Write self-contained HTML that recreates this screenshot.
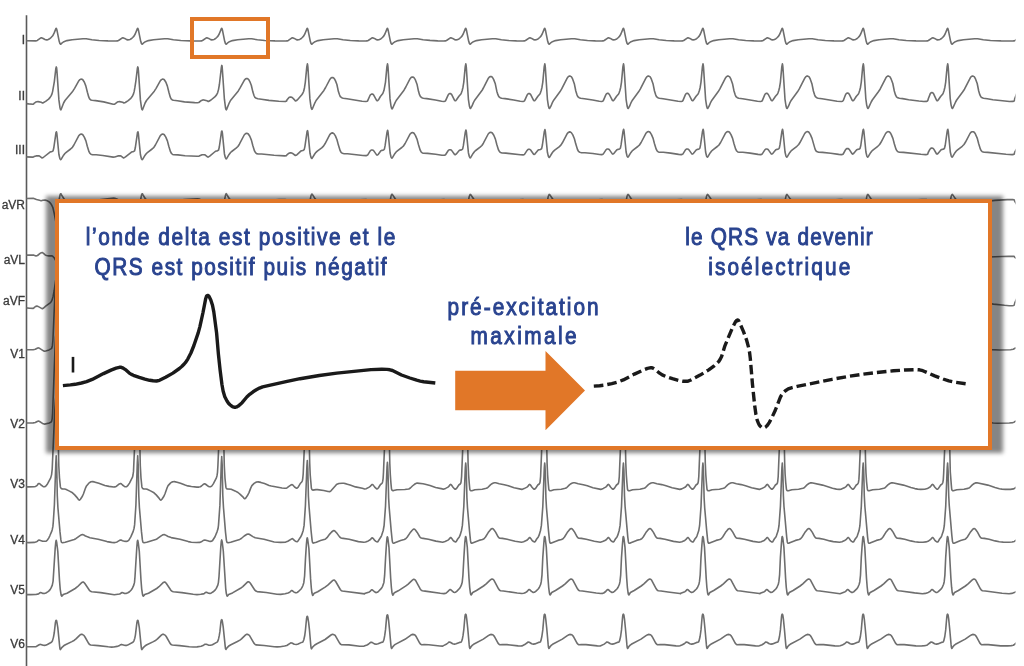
<!DOCTYPE html>
<html><head><meta charset="utf-8">
<style>
html,body{margin:0;padding:0;background:#fff;}
body{width:1024px;height:666px;overflow:hidden;position:relative;}
#ecg{position:absolute;left:0;top:0;will-change:transform;}
#shadow{position:absolute;left:45.5px;top:196px;width:957px;height:256.8px;background:rgba(0,0,0,0.48);filter:blur(2px);}
#box{position:absolute;left:55px;top:199px;width:937px;height:251px;box-sizing:border-box;border:4px solid #E17728;background:#fff;}
#small{position:absolute;left:190px;top:17px;width:80px;height:42px;box-sizing:border-box;border:4px solid #E17728;}
#inset{position:absolute;left:0;top:0;will-change:transform;}
</style></head>
<body>
<svg id="ecg" width="1024" height="666" viewBox="0 0 1024 666">
<defs><clipPath id="cl"><rect x="26.5" y="0" width="989" height="666"/></clipPath></defs>
<line x1="26.5" y1="15.3" x2="26.5" y2="666" stroke="#5a5a5a" stroke-width="1.6"/>
<g clip-path="url(#cl)" fill="none" stroke="#6e6e6e" stroke-width="1.6" stroke-linejoin="round" stroke-linecap="round">
<path d="M16.5 40.6L35.7 40.9 37.3 40.4 40.5 38.1 41.5 37.8 42.7 38.2 45.0 39.5 45.7 39.7 46.7 39.9 48.1 39.6 49.2 39.1 50.4 38.2 52.7 35.8 54.2 32.9 55.9 28.6 56.2 28.3 56.6 28.9 57.1 30.8 59.2 41.3 59.9 43.4 60.6 44.2 61.1 44.0 62.2 42.8 63.9 41.7 66.9 40.6 72.1 39.7 83.0 38.7 86.2 38.8 91.9 39.8 99.1 40.5 107.9 40.9 116.1 41.0 117.3 40.9 118.5 40.5 122.0 38.1 122.9 37.8 124.7 38.4 126.7 39.6 127.9 39.9 128.9 39.8 130.1 39.4 131.2 38.8 132.7 37.5 134.0 36.1 135.2 34.0 137.4 28.6 137.7 28.3 138.1 28.9 138.6 30.8 140.7 41.3 141.4 43.4 142.1 44.2 142.6 44.0 143.7 42.8 145.4 41.7 148.4 40.6 153.6 39.7 164.4 38.7 167.7 38.8 173.4 39.8 180.8 40.5 190.5 40.9 200.3 41.0 201.4 40.9 202.5 40.5 206.0 38.1 206.9 37.8 208.7 38.4 210.7 39.6 211.9 39.9 212.9 39.8 214.1 39.4 215.2 38.8 216.7 37.5 218.0 36.1 219.2 34.0 221.4 28.6 221.7 28.3 222.1 28.9 222.6 30.8 224.7 41.3 225.4 43.4 226.1 44.2 226.6 44.0 227.7 42.8 229.4 41.7 232.4 40.6 237.6 39.7 248.7 38.7 251.7 38.8 257.4 39.8 264.7 40.5 275.0 40.9 286.0 41.0 287.1 40.9 288.4 40.4 291.6 38.1 292.6 37.8 294.3 38.4 296.3 39.6 297.5 39.9 298.5 39.8 299.7 39.4 300.8 38.8 302.3 37.5 303.6 36.1 304.8 34.0 307.0 28.6 307.3 28.3 307.7 28.9 308.2 30.8 310.3 41.3 311.0 43.4 311.7 44.2 312.2 44.0 313.3 42.8 315.0 41.7 318.0 40.6 323.2 39.7 334.1 38.7 337.3 38.8 343.0 39.8 350.3 40.5 358.7 40.9 365.7 41.0 366.9 40.9 368.2 40.5 371.7 38.1 372.6 37.8 374.4 38.4 376.6 39.7 377.6 39.9 378.9 39.7 380.1 39.3 381.1 38.6 382.4 37.5 383.7 36.1 384.9 34.0 387.1 28.6 387.4 28.3 387.8 28.9 388.3 30.8 390.4 41.3 391.1 43.4 391.8 44.2 392.3 44.0 393.4 42.8 395.1 41.7 398.1 40.6 403.3 39.7 414.1 38.7 417.4 38.8 423.1 39.8 430.0 40.4 437.8 40.9 443.9 41.0 445.3 40.9 446.5 40.5 450.0 38.1 450.9 37.8 452.7 38.4 454.9 39.7 455.9 39.9 457.2 39.7 458.4 39.3 459.4 38.6 460.7 37.5 462.0 36.1 463.2 34.0 465.4 28.6 465.7 28.3 466.1 28.9 466.6 30.8 468.7 41.3 469.4 43.4 470.1 44.2 470.6 44.0 471.7 42.8 473.4 41.7 476.4 40.6 481.6 39.7 492.4 38.7 495.7 38.8 501.4 39.8 508.5 40.5 516.5 40.9 523.0 41.0 524.3 40.9 525.5 40.5 529.0 38.1 530.0 37.8 531.7 38.4 533.9 39.7 534.9 39.9 536.2 39.7 537.4 39.3 538.4 38.6 539.7 37.5 541.0 36.1 542.2 34.0 544.4 28.6 544.7 28.3 545.1 28.9 545.6 30.8 547.7 41.3 548.4 43.4 549.1 44.2 549.6 44.0 550.7 42.8 552.4 41.7 555.4 40.6 560.6 39.7 571.5 38.7 574.7 38.8 580.4 39.8 587.5 40.5 595.4 40.9 601.6 41.0 603.0 40.9 604.2 40.5 607.7 38.1 608.6 37.8 610.4 38.4 612.6 39.7 613.6 39.9 614.9 39.7 616.1 39.3 617.1 38.6 618.4 37.5 619.7 36.1 620.9 34.0 623.1 28.6 623.4 28.3 623.8 28.9 624.3 30.8 626.4 41.3 627.1 43.4 627.8 44.2 628.3 44.0 629.4 42.8 631.1 41.7 634.1 40.6 639.3 39.7 650.1 38.7 653.4 38.8 659.1 39.8 666.2 40.5 674.2 40.9 681.2 41.0 682.4 40.9 683.7 40.5 687.2 38.1 688.1 37.8 689.9 38.4 692.1 39.7 693.1 39.9 694.4 39.7 695.6 39.3 696.6 38.6 697.9 37.5 699.2 36.1 700.4 34.0 702.6 28.6 702.9 28.3 703.3 28.9 703.8 30.8 705.9 41.3 706.6 43.4 707.3 44.2 707.8 44.0 708.9 42.8 710.6 41.7 713.6 40.6 718.8 39.7 729.6 38.7 732.9 38.8 738.6 39.8 745.7 40.5 753.8 40.9 760.6 41.0 761.8 40.9 763.1 40.5 766.6 38.1 767.5 37.8 769.3 38.4 771.5 39.7 772.5 39.9 773.8 39.7 775.0 39.3 776.0 38.6 777.3 37.5 778.6 36.1 779.8 34.0 782.0 28.6 782.3 28.3 782.7 28.9 783.2 30.8 785.3 41.3 786.0 43.4 786.7 44.2 787.2 44.0 788.3 42.8 790.0 41.7 793.0 40.6 798.2 39.7 809.0 38.7 812.3 38.8 818.0 39.8 825.3 40.5 834.0 40.9 841.6 41.0 842.8 40.9 844.0 40.5 847.5 38.1 848.5 37.8 850.2 38.4 852.2 39.6 853.4 39.9 854.4 39.8 855.6 39.4 856.7 38.8 858.2 37.5 859.5 36.1 860.7 34.0 862.9 28.6 863.2 28.3 863.6 28.9 864.1 30.8 866.2 41.3 866.9 43.4 867.6 44.2 868.1 44.0 869.2 42.8 870.9 41.7 873.9 40.6 879.1 39.7 890.0 38.7 893.2 38.8 898.9 39.8 906.2 40.5 916.0 40.9 926.2 41.0 927.3 40.9 928.4 40.5 931.9 38.1 932.9 37.8 934.6 38.4 936.6 39.6 937.8 39.9 938.8 39.8 940.0 39.4 941.1 38.8 942.6 37.5 943.9 36.1 945.1 34.0 947.3 28.6 947.6 28.3 948.0 28.9 948.5 30.8 950.6 41.3 951.3 43.4 952.0 44.2 952.5 44.0 953.6 42.8 955.3 41.7 958.3 40.6 963.5 39.7 974.6 38.7 977.6 38.8 983.3 39.8 990.5 40.5 1001.1 40.9 1012.8 41.0 1013.9 40.9 1015.1 40.4 1018.3 38.1 1019.2 37.8 1021.0 38.4 1023.0 39.6 1024.2 39.9 1025.2 39.8 1026.4 39.4 1027.5 38.8 1029.0 37.5 1030.3 36.1 1031.5 34.0 1033.7 28.6 1034.0 28.3 1034.4 28.9 1034.9 30.8 1037.0 41.3 1037.7 43.4 1038.4 44.2 1038.9 44.0 1040.0 42.8 1042.6 41.2 1046.5 40.2 1051.2 39.6 1062.8 38.7 1070.2 39.8 1080.5 40.5 1071.7 40.7 1035.5 40.6"/>
<path d="M16.5 102.5L28.7 103.9 33.0 104.2 33.6 104.0 34.0 103.4 35.8 102.1 36.9 101.7 38.0 101.6 41.2 102.3 42.2 102.9 42.8 103.0 45.6 101.4 48.6 99.1 50.1 97.4 51.1 95.9 52.0 93.9 52.6 91.6 54.3 81.8 55.8 68.8 56.3 66.9 56.6 67.8 56.9 70.6 58.9 99.9 59.9 107.2 60.4 109.3 60.8 109.9 61.1 109.5 63.6 103.0 65.0 100.5 72.8 91.2 74.6 88.3 78.9 80.7 79.9 79.6 80.9 79.1 82.0 79.3 82.8 79.8 84.4 82.3 85.8 85.9 87.4 92.3 88.8 97.2 89.6 98.8 90.8 99.9 92.1 100.3 95.6 100.6 103.7 101.9 113.2 104.2 114.7 104.1 117.3 102.1 118.4 101.7 119.5 101.6 122.7 102.3 123.9 103.0 125.3 102.5 128.2 100.6 130.5 98.7 132.2 96.6 133.4 94.2 134.2 91.4 134.9 87.4 135.9 80.8 137.3 69.0 137.6 67.4 137.8 66.9 138.1 67.8 138.4 70.6 140.4 99.9 141.4 107.2 141.9 109.3 142.3 109.9 142.6 109.5 145.1 103.0 146.5 100.5 154.3 91.2 156.1 88.3 160.4 80.7 161.4 79.6 162.4 79.1 163.5 79.3 164.3 79.8 165.9 82.3 167.3 85.9 168.9 92.3 170.3 97.2 171.1 98.8 172.3 99.9 173.6 100.3 177.4 100.7 184.5 101.9 194.7 102.6 197.4 102.7 198.8 102.5 201.5 100.4 202.9 99.9 203.9 100.0 206.9 100.7 207.9 101.4 208.5 101.5 211.0 100.0 214.5 97.2 216.4 95.1 217.6 92.8 218.5 89.6 219.4 84.5 221.3 67.9 221.6 66.0 221.8 65.4 222.1 66.2 222.3 68.8 224.4 99.2 225.4 107.0 225.8 109.1 226.3 109.8 226.6 109.4 229.3 102.8 230.5 100.5 238.3 90.9 240.1 87.9 244.4 80.1 245.4 79.0 246.4 78.5 247.2 78.6 248.1 79.0 248.9 79.9 249.7 81.3 251.3 85.3 252.9 92.1 254.0 95.5 254.9 97.3 256.3 98.3 257.9 98.7 261.4 99.2 269.0 100.4 278.8 101.3 284.6 101.5 285.9 101.4 286.5 101.1 286.9 100.1 289.0 97.5 289.8 97.1 290.9 97.0 291.6 97.2 292.5 97.7 294.3 99.6 295.2 100.7 295.7 100.9 296.5 100.6 297.5 99.7 301.8 94.8 302.8 93.3 303.6 91.5 304.5 87.7 305.3 82.3 306.8 66.9 307.4 63.9 307.6 64.7 307.9 67.1 309.9 98.9 310.9 106.4 311.5 108.7 311.9 109.4 312.4 108.8 314.9 102.8 316.1 100.5 323.9 90.4 325.6 87.5 330.0 79.2 331.0 78.0 332.0 77.5 332.8 77.6 333.7 78.0 334.5 79.0 335.4 80.6 336.9 84.5 338.4 91.6 339.5 94.8 340.3 96.6 341.7 97.7 343.2 98.2 347.0 98.7 362.1 101.2 366.0 101.5 367.0 101.3 367.6 100.8 370.0 95.5 370.7 94.6 371.5 94.1 372.3 94.0 373.0 94.3 373.7 95.1 376.6 100.3 377.0 100.7 377.6 100.7 378.5 99.8 380.4 96.5 382.8 93.6 384.0 90.3 385.5 82.1 386.9 66.9 387.5 63.9 387.7 64.7 388.0 67.1 390.0 98.9 391.0 106.1 391.6 108.3 392.1 108.9 392.5 108.5 395.1 102.6 396.2 100.5 404.0 90.2 405.8 87.0 410.1 78.7 411.1 77.5 412.1 77.0 412.9 77.1 413.8 77.5 414.6 78.5 415.5 80.2 417.0 84.2 418.5 91.3 419.6 94.9 420.5 96.6 421.8 97.7 423.3 98.2 426.8 98.6 435.4 100.0 441.6 101.3 444.0 101.5 444.8 101.3 445.6 100.6 448.1 95.1 448.7 94.1 449.5 93.6 450.3 93.5 451.0 93.9 451.7 94.6 454.6 100.3 455.0 100.7 455.7 100.7 456.5 99.8 458.9 96.3 460.9 93.9 461.5 92.6 462.2 90.5 463.0 87.2 463.8 82.1 465.2 66.9 465.8 63.9 466.0 64.7 466.3 67.1 468.4 99.3 469.4 106.0 470.0 108.0 470.3 108.4 470.5 108.5 471.9 106.2 473.4 102.6 474.5 100.5 482.3 90.0 484.1 86.7 488.4 78.2 489.4 77.0 490.4 76.5 491.2 76.6 492.1 77.0 492.9 78.1 493.7 79.6 495.3 83.8 496.8 91.2 497.9 94.7 498.8 96.6 500.1 97.7 501.6 98.2 505.1 98.6 513.7 100.0 520.2 101.3 523.0 101.5 523.9 101.3 524.6 100.6 527.1 95.1 527.7 94.1 528.5 93.6 529.3 93.5 530.0 93.9 530.7 94.6 533.6 100.3 534.0 100.7 534.7 100.7 535.5 99.8 537.9 96.3 539.9 93.9 540.5 92.6 541.2 90.5 542.0 87.2 542.8 82.1 544.2 66.9 544.8 63.9 545.0 64.7 545.3 67.1 547.4 99.3 548.4 106.0 549.0 108.0 549.3 108.4 549.5 108.5 550.9 106.2 552.5 102.3 553.7 100.2 559.9 91.8 561.7 88.9 567.3 77.9 568.4 76.6 569.4 76.0 570.2 76.1 571.1 76.6 571.9 77.6 572.7 79.2 574.3 83.7 575.8 91.0 576.9 94.6 577.8 96.6 579.1 97.7 580.6 98.2 584.4 98.7 592.7 100.0 599.3 101.3 601.7 101.5 602.6 101.3 603.3 100.6 605.8 94.9 606.4 93.9 607.2 93.4 608.0 93.3 608.7 93.7 609.4 94.5 612.4 100.4 612.8 100.7 613.4 100.7 614.2 99.8 616.6 96.3 618.6 93.9 619.2 92.6 619.9 90.5 620.7 87.2 621.5 82.1 622.9 66.9 623.5 63.9 623.7 64.7 624.0 67.1 626.1 99.3 627.1 106.0 627.7 108.0 628.0 108.4 628.2 108.5 629.6 106.2 631.2 102.3 632.4 100.2 638.6 91.8 640.4 88.9 646.0 77.9 647.1 76.6 648.1 76.0 648.9 76.1 649.8 76.6 650.6 77.6 651.4 79.2 653.0 83.7 654.5 91.0 655.6 94.6 656.5 96.6 657.8 97.7 659.3 98.2 663.1 98.7 678.1 101.3 681.2 101.5 682.1 101.3 682.9 100.6 685.3 94.9 685.9 93.9 686.7 93.4 687.5 93.3 688.2 93.7 688.9 94.5 691.9 100.4 692.3 100.7 692.9 100.7 693.7 99.8 696.1 96.3 698.1 93.9 698.7 92.6 699.4 90.5 700.2 87.2 701.0 82.1 702.4 66.9 703.0 63.9 703.2 64.7 703.5 67.1 705.6 99.3 706.6 106.0 707.2 108.0 707.5 108.4 707.7 108.5 709.1 106.2 710.7 102.3 711.9 100.2 718.1 91.8 719.9 88.9 725.5 77.9 726.6 76.6 727.6 76.0 728.4 76.1 729.3 76.6 730.1 77.6 730.9 79.2 732.5 83.7 734.0 91.0 735.1 94.6 736.0 96.6 737.3 97.7 738.8 98.2 742.6 98.7 757.5 101.3 760.6 101.5 761.5 101.3 762.3 100.6 764.7 94.9 765.3 93.9 766.1 93.4 766.9 93.3 767.6 93.7 768.3 94.5 771.3 100.4 771.7 100.7 772.3 100.7 773.1 99.8 775.5 96.3 777.5 93.9 778.1 92.6 778.8 90.5 779.6 87.2 780.4 82.1 781.8 66.9 782.4 63.9 782.6 64.7 782.9 67.1 785.0 99.3 786.0 106.0 786.6 108.0 786.9 108.4 787.1 108.5 788.5 106.2 790.1 102.3 791.3 100.2 797.5 91.8 799.3 88.9 804.9 77.9 806.0 76.6 807.0 76.0 807.8 76.1 808.7 76.6 809.5 77.6 810.3 79.2 811.9 83.7 813.4 91.0 814.5 94.6 815.4 96.6 816.7 97.7 818.2 98.2 822.0 98.7 837.1 101.2 841.5 101.5 842.5 101.3 843.3 100.5 845.5 94.8 846.2 93.6 847.0 93.1 847.8 93.0 848.5 93.4 849.2 94.2 852.2 100.3 852.6 100.7 853.2 100.7 853.9 100.1 856.2 96.5 858.4 93.9 859.0 92.6 859.7 90.5 860.5 87.2 861.3 82.1 862.7 66.9 863.3 63.9 863.5 64.7 863.8 67.1 865.8 98.5 866.7 105.1 867.3 107.4 867.8 108.4 868.0 108.5 868.5 107.8 871.2 102.0 872.3 100.0 878.2 92.0 880.1 89.2 885.9 77.8 886.9 76.6 887.9 76.0 888.7 76.1 889.6 76.6 890.4 77.6 891.2 79.2 892.8 83.5 894.3 91.0 895.5 94.9 896.5 96.8 897.8 97.8 899.4 98.3 902.6 98.6 908.7 99.7 918.9 101.0 923.8 101.5 926.5 101.4 927.4 101.1 927.8 100.6 928.3 98.7 930.3 93.6 931.1 92.7 931.9 92.5 932.7 92.7 933.5 93.6 936.5 100.1 937.0 100.7 937.6 100.7 938.4 99.8 940.6 96.5 942.8 93.9 943.4 92.6 944.1 90.5 944.9 87.2 945.7 82.1 947.1 66.9 947.7 63.9 947.9 64.7 948.2 67.1 950.2 98.5 951.1 105.1 951.7 107.4 952.2 108.4 952.4 108.5 952.9 107.8 955.6 102.0 956.7 100.0 962.6 92.0 964.5 89.2 970.3 77.8 971.3 76.6 972.3 76.0 973.1 76.1 974.0 76.6 974.8 77.6 975.6 79.2 977.2 83.5 978.7 91.0 979.9 94.9 980.9 96.8 982.2 97.8 983.5 98.2 987.3 98.7 992.9 99.7 1002.5 100.8 1009.5 101.5 1013.0 101.4 1013.9 101.1 1014.4 100.6 1014.7 98.7 1016.7 93.6 1017.5 92.7 1018.3 92.5 1019.1 92.7 1019.9 93.6 1022.9 100.1 1023.4 100.7 1024.0 100.7 1024.8 99.8 1027.0 96.5 1029.2 93.9 1029.8 92.6 1030.5 90.5 1031.3 87.2 1032.1 82.1 1033.5 66.9 1034.1 63.9 1034.3 64.7 1034.6 67.1 1036.6 98.5 1037.5 105.1 1038.1 107.4 1038.6 108.4 1038.8 108.5 1039.3 107.8 1042.0 102.0 1043.1 100.0 1049.0 92.0 1050.9 89.2 1056.7 77.8 1057.7 76.6 1058.7 76.0 1059.8 76.2 1060.6 76.8 1061.4 77.9 1062.3 79.7 1063.6 83.7 1065.1 90.7 1066.0 94.0 1066.7 95.9 1067.6 97.2 1068.6 97.8 1070.2 98.3 1082.6 99.4 1083.9 99.6 1081.9 100.0 1075.0 100.5 1035.5 102.5"/>
<path d="M16.5 156.5L32.5 157.1 33.6 157.0 34.0 156.6 36.1 155.9 38.5 155.8 39.6 156.1 41.9 157.9 42.4 157.9 43.2 157.5 49.7 152.3 50.8 151.8 51.8 151.7 53.1 150.8 53.8 147.8 55.7 134.6 56.0 132.5 56.4 131.8 56.6 132.3 56.9 134.0 58.9 154.5 59.8 158.3 60.3 159.3 60.7 159.7 61.1 159.4 63.6 155.2 64.9 153.5 66.2 152.3 70.6 149.0 72.4 147.3 73.9 145.0 78.7 135.8 79.9 134.6 80.4 134.3 81.2 134.1 82.0 134.3 82.8 134.8 84.3 137.1 85.9 140.9 87.3 146.3 89.0 151.7 89.9 153.3 90.9 154.3 92.5 154.8 96.1 154.8 102.8 155.5 113.2 157.1 114.7 157.0 117.9 155.9 120.2 155.8 121.1 156.1 123.4 157.9 123.9 157.9 125.5 156.9 131.2 152.3 132.3 151.8 133.3 151.7 134.6 150.8 135.3 147.8 137.2 134.6 137.5 132.5 137.9 131.8 138.1 132.3 138.4 134.0 140.4 154.5 141.3 158.3 141.8 159.3 142.2 159.7 142.6 159.4 145.1 155.2 146.4 153.5 147.7 152.3 152.1 149.0 153.9 147.3 155.4 145.0 160.2 135.8 161.4 134.6 161.9 134.3 162.7 134.1 163.5 134.3 164.3 134.8 165.8 137.1 167.4 140.9 168.8 146.3 170.5 151.7 171.5 153.5 172.6 154.4 174.0 154.8 177.9 154.9 185.1 155.7 197.1 156.3 199.1 156.1 202.1 154.8 204.2 154.7 205.0 154.9 207.5 156.9 208.1 157.1 209.7 156.1 215.2 151.5 216.3 151.0 217.3 150.9 218.6 150.0 219.3 147.0 221.2 133.8 221.5 131.7 221.9 131.0 222.1 131.5 222.4 133.2 224.4 153.7 225.3 157.5 225.8 158.5 226.2 158.9 226.6 158.6 229.1 154.4 230.4 152.7 231.7 151.5 236.1 148.2 237.9 146.5 239.4 144.2 244.2 135.0 245.4 133.8 245.9 133.5 246.7 133.3 247.5 133.5 248.3 134.0 249.8 136.3 251.4 140.1 252.8 145.5 254.5 150.9 255.5 152.7 256.6 153.6 258.3 154.0 261.6 154.0 274.1 155.3 284.6 155.9 286.5 155.6 286.9 154.9 289.0 153.2 289.8 152.9 290.9 152.8 292.2 153.2 295.4 155.5 296.1 155.3 296.8 154.8 300.8 151.1 301.7 150.7 302.9 150.5 304.2 149.6 304.9 146.6 306.8 133.4 307.1 131.3 307.5 130.6 307.7 131.1 308.0 132.8 310.0 153.3 310.9 157.1 311.4 158.1 311.8 158.5 312.2 158.2 314.7 154.0 316.0 152.3 317.3 151.1 321.7 147.8 323.5 146.1 325.0 143.8 329.8 134.6 331.0 133.4 331.5 133.1 332.3 132.9 333.1 133.1 333.9 133.6 335.4 135.9 337.0 139.7 338.4 145.1 340.1 150.5 341.1 152.3 342.2 153.2 343.6 153.6 347.5 153.7 362.9 155.5 366.0 155.6 367.0 155.4 367.6 155.1 370.1 151.1 370.7 150.4 371.5 150.0 372.3 150.0 373.0 150.2 373.8 150.9 376.6 154.9 377.2 155.1 377.5 155.0 378.3 154.3 380.9 150.8 381.7 150.4 383.2 150.2 384.0 149.6 384.4 149.1 385.1 145.7 387.0 132.4 387.6 130.3 387.8 130.8 388.1 132.5 390.1 153.0 391.0 156.8 391.5 157.8 391.9 158.2 392.3 157.9 394.8 153.7 396.1 152.0 397.4 150.8 401.8 147.5 403.6 145.8 405.1 143.5 409.9 134.3 411.1 133.1 411.6 132.8 412.4 132.6 413.2 132.8 414.0 133.3 415.5 135.6 417.1 139.4 418.5 144.8 420.2 150.2 421.2 152.0 422.3 152.9 423.7 153.3 427.6 153.4 435.6 154.2 441.9 155.2 444.0 155.3 444.9 155.1 445.7 154.5 448.1 150.8 448.7 150.1 449.5 149.7 450.3 149.7 451.0 149.9 451.6 150.4 454.4 154.3 455.2 154.8 456.1 154.2 459.2 150.5 460.1 150.1 461.5 149.9 462.3 149.3 462.7 148.8 463.4 145.4 465.3 132.1 465.9 130.0 466.1 130.5 466.4 132.2 468.4 152.7 469.3 156.5 469.8 157.5 470.2 157.9 470.6 157.6 473.1 153.4 474.4 151.7 475.7 150.5 480.1 147.2 481.9 145.5 483.4 143.2 488.2 134.0 489.4 132.8 489.9 132.5 490.7 132.3 491.5 132.5 492.3 133.0 493.8 135.3 495.4 139.1 496.8 144.5 498.5 149.9 499.5 151.7 500.6 152.6 502.0 153.0 505.9 153.1 520.4 154.8 523.0 154.9 523.9 154.7 524.5 154.4 527.1 150.4 527.7 149.7 528.5 149.3 529.3 149.3 530.0 149.5 530.8 150.2 533.6 154.2 534.2 154.4 534.5 154.3 535.3 153.6 538.2 150.1 539.1 149.7 540.5 149.5 541.3 148.9 541.7 148.4 542.4 145.0 544.3 131.7 544.9 129.6 545.1 130.1 545.4 131.8 547.4 152.3 548.3 156.1 548.8 157.1 549.2 157.5 549.6 157.2 552.1 153.0 553.4 151.3 554.7 150.1 559.1 146.8 560.9 145.1 562.4 142.8 567.2 133.6 568.4 132.4 568.9 132.1 569.7 131.9 570.5 132.1 571.3 132.6 572.8 134.9 574.4 138.7 575.8 144.1 577.5 149.5 578.5 151.3 579.6 152.2 581.0 152.6 584.9 152.7 592.9 153.5 599.6 154.5 601.7 154.6 602.6 154.4 603.2 154.1 605.8 150.1 606.4 149.4 607.2 149.0 608.0 149.0 608.7 149.2 609.5 149.9 612.3 153.9 612.9 154.1 613.2 154.0 614.0 153.3 616.9 149.8 617.8 149.4 619.2 149.2 620.0 148.6 620.4 148.1 621.1 144.7 623.0 131.4 623.6 129.3 623.8 129.8 624.1 131.5 626.1 152.0 627.0 155.8 627.5 156.8 627.9 157.2 628.3 156.9 630.8 152.7 632.1 151.0 633.4 149.8 637.8 146.5 639.6 144.8 641.1 142.5 645.9 133.3 647.1 132.1 647.6 131.8 648.4 131.6 649.2 131.8 650.0 132.3 651.5 134.6 653.1 138.4 654.5 143.8 656.2 149.2 657.2 151.0 658.3 151.9 659.7 152.3 663.3 152.3 670.6 153.1 678.6 154.4 681.2 154.6 682.2 154.4 682.8 154.1 685.3 150.1 685.9 149.4 686.7 149.0 687.5 149.0 688.2 149.2 689.0 149.9 691.8 153.9 692.4 154.1 692.7 154.0 693.5 153.3 696.4 149.8 697.3 149.4 698.7 149.2 699.5 148.6 699.9 148.1 700.6 144.7 702.5 131.4 703.1 129.3 703.3 129.8 703.6 131.5 705.6 152.0 706.5 155.8 707.0 156.8 707.4 157.2 707.8 156.9 710.3 152.7 711.6 151.0 712.9 149.8 717.3 146.5 719.1 144.8 720.6 142.5 725.4 133.3 726.6 132.1 727.1 131.8 727.9 131.6 728.7 131.8 729.5 132.3 731.0 134.6 732.6 138.4 734.0 143.8 735.7 149.2 736.7 151.0 737.8 151.9 739.2 152.3 742.8 152.3 750.1 153.1 758.0 154.4 760.6 154.6 761.6 154.4 762.1 154.1 764.7 150.1 765.3 149.4 766.1 149.0 766.9 149.0 767.6 149.2 768.4 149.9 771.2 153.9 771.8 154.1 772.1 154.0 772.9 153.3 775.8 149.8 776.7 149.4 778.1 149.2 778.9 148.6 779.3 148.1 780.0 144.7 781.9 131.4 782.5 129.3 782.7 129.8 783.0 131.5 785.0 152.0 785.9 155.8 786.4 156.8 786.8 157.2 787.2 156.9 789.7 152.7 791.0 151.0 792.3 149.8 796.9 146.3 798.7 144.5 800.1 142.3 804.7 133.5 806.0 132.1 807.0 131.6 808.1 131.8 808.9 132.3 810.4 134.6 812.0 138.4 815.0 148.9 815.8 150.6 816.8 151.6 818.6 152.3 822.5 152.4 830.7 153.3 838.7 154.4 841.3 154.6 842.6 154.4 843.2 154.0 845.6 149.6 846.7 148.6 848.0 148.5 848.8 149.0 849.4 149.6 851.9 153.5 852.7 154.1 853.6 153.5 856.7 149.8 857.6 149.4 858.8 149.2 860.0 148.5 860.8 145.5 862.7 131.8 863.1 129.9 863.4 129.3 863.9 131.5 865.9 152.0 866.8 155.8 867.3 156.8 867.7 157.2 868.1 156.9 870.6 152.7 871.9 151.0 873.2 149.8 877.8 146.3 879.6 144.5 881.0 142.3 885.6 133.5 886.9 132.1 887.9 131.6 888.7 131.7 889.6 132.1 890.4 133.0 891.2 134.4 892.9 138.4 894.3 143.8 896.0 149.2 896.9 150.8 897.9 151.8 899.5 152.3 903.4 152.4 920.9 154.3 925.7 154.6 927.2 154.4 927.8 154.0 928.2 152.5 930.0 149.2 931.1 148.1 932.4 148.1 933.2 148.5 933.8 149.2 936.3 153.5 937.1 154.1 938.0 153.5 941.1 149.8 942.0 149.4 943.2 149.2 944.4 148.5 945.2 145.5 947.1 131.8 947.5 129.9 947.8 129.3 948.3 131.5 950.3 152.0 951.2 155.8 951.7 156.8 952.1 157.2 952.5 156.9 955.0 152.7 956.3 151.0 957.6 149.8 962.2 146.3 964.0 144.5 965.4 142.3 970.0 133.5 971.0 132.3 972.1 131.7 973.1 131.7 974.0 132.1 974.8 133.0 975.5 134.2 977.3 138.4 978.7 143.8 980.4 149.2 981.3 150.8 982.3 151.8 984.2 152.3 987.8 152.4 1006.0 154.3 1012.2 154.6 1013.7 154.4 1014.4 154.0 1014.6 152.5 1016.3 149.4 1017.0 148.5 1017.5 148.1 1018.8 148.1 1019.6 148.5 1020.2 149.2 1022.7 153.5 1023.5 154.1 1024.4 153.5 1027.5 149.8 1028.4 149.4 1029.6 149.2 1030.8 148.5 1031.6 145.5 1033.5 131.8 1033.9 129.9 1034.2 129.3 1034.7 131.5 1036.7 152.0 1037.6 155.8 1038.1 156.8 1038.5 157.2 1038.9 156.9 1041.4 152.7 1042.7 151.0 1044.0 149.8 1048.4 146.5 1050.2 144.8 1051.7 142.5 1056.5 133.3 1057.9 131.9 1059.3 131.6 1060.1 131.9 1060.9 132.6 1062.4 135.2 1063.7 138.7 1066.7 148.9 1067.4 150.4 1068.3 151.5 1069.3 152.1 1070.6 152.3 1082.4 152.7 1083.9 152.9 1081.7 153.2 1074.5 153.8 1035.5 156.5"/>
<path d="M21.5 198.8L33.2 198.2 36.5 199.5 40.5 200.6 41.2 200.7 42.8 200.2 45.0 200.1 46.8 200.5 48.8 201.6 50.2 202.9 51.2 204.2 52.8 207.3 54.2 213.3 55.8 221.7 56.2 223.1 56.5 222.8 57.0 219.6 59.0 200.3 60.0 195.1 60.5 193.9 60.8 193.7 61.0 193.8 62.0 195.8 63.8 198.5 65.2 200.1 73.0 205.5 79.0 210.9 80.0 211.5 81.0 211.7 82.8 211.5 84.5 210.2 85.8 208.6 87.5 204.8 89.0 202.3 90.0 201.4 91.2 200.9 113.8 198.1 114.8 198.2 118.0 199.5 122.2 200.7 123.0 200.6 124.2 200.2 126.0 200.1 128.2 200.5 130.0 201.4 131.5 202.7 132.8 204.2 133.8 206.0 134.5 208.1 135.2 211.1 137.2 221.7 137.8 223.1 138.0 222.8 138.5 219.6 140.5 200.3 141.5 195.1 142.0 193.9 142.2 193.7 142.5 193.8 143.5 195.8 145.2 198.5 146.8 200.1 154.5 205.5 160.5 210.9 161.5 211.5 162.5 211.7 164.2 211.5 166.0 210.2 167.2 208.6 169.0 204.8 170.5 202.3 171.5 201.4 173.0 200.8 184.8 199.5 197.5 198.9 199.2 199.1 202.2 200.4 206.0 201.5 207.0 201.5 208.2 200.9 209.8 200.8 212.0 201.2 214.0 202.2 215.8 203.6 217.0 205.1 218.0 207.0 218.8 209.1 219.8 213.3 221.2 222.3 221.8 223.9 222.0 223.4 222.2 222.1 224.5 200.3 225.5 195.2 226.0 193.9 226.2 193.7 226.5 193.9 227.5 195.8 229.2 198.5 230.8 200.1 238.5 205.7 244.5 211.2 245.5 211.8 246.5 212.0 248.2 211.8 249.8 210.7 251.2 208.8 252.8 205.4 254.0 203.4 255.2 202.2 256.8 201.7 268.8 200.2 279.2 199.6 285.2 199.5 286.5 199.7 289.5 202.4 290.8 202.9 291.8 203.1 293.0 202.7 295.5 200.7 296.2 200.6 297.0 200.8 299.2 202.1 301.8 204.3 303.0 205.9 303.8 207.4 305.2 212.8 306.8 222.3 307.2 224.5 307.5 224.4 307.8 223.3 310.0 201.0 311.0 195.7 311.8 194.0 312.2 194.3 314.8 198.3 316.5 200.3 324.2 206.0 330.0 211.6 331.0 212.2 332.0 212.5 333.8 212.3 335.2 211.2 336.8 209.3 338.5 205.3 339.5 203.7 340.5 202.7 342.2 201.9 360.2 199.9 366.0 199.5 367.0 199.7 367.8 200.1 370.5 203.9 371.5 204.6 372.5 204.8 373.8 204.2 376.8 200.7 377.2 200.4 377.8 200.5 378.8 201.2 382.2 204.7 383.0 205.7 383.8 207.2 384.5 209.3 385.2 212.4 387.0 223.2 387.2 224.3 387.5 224.6 388.0 222.1 390.0 201.7 391.0 196.3 391.5 194.8 392.0 194.2 392.5 194.7 395.2 198.8 396.5 200.2 404.2 206.1 410.0 211.8 411.2 212.5 412.2 212.8 413.2 212.7 414.0 212.5 415.5 211.3 417.0 209.2 418.5 205.7 419.8 203.6 420.8 202.6 422.2 202.0 440.8 199.7 444.0 199.5 445.5 200.0 446.8 201.4 448.5 204.0 449.5 204.8 450.5 205.0 451.0 204.9 451.8 204.4 454.8 200.7 455.2 200.5 456.0 200.6 457.2 201.5 460.5 204.7 461.5 206.0 462.2 207.7 463.8 213.3 465.2 222.9 465.8 224.6 466.0 224.1 466.2 222.6 468.2 202.1 469.2 196.7 469.8 195.1 470.2 194.4 470.8 194.7 473.5 198.7 474.8 200.1 482.5 206.2 488.5 212.2 489.5 212.8 490.5 213.0 491.5 213.0 492.2 212.8 493.8 211.6 495.2 209.5 496.8 205.9 498.0 203.7 499.0 202.7 500.5 202.0 519.2 199.7 523.0 199.5 524.5 200.0 526.0 201.8 527.5 204.0 528.5 204.8 529.5 205.0 530.0 204.9 530.8 204.4 533.8 200.7 534.2 200.5 535.0 200.6 536.2 201.5 539.5 204.7 540.5 206.0 541.2 207.7 542.8 213.3 544.2 222.9 544.8 224.6 545.0 224.1 545.2 222.6 547.2 202.1 548.2 196.7 548.8 195.1 549.2 194.4 549.8 194.7 552.5 198.7 553.8 200.1 561.5 206.3 567.5 212.4 568.5 213.0 569.5 213.3 570.5 213.3 571.2 213.0 572.8 211.8 574.2 209.7 575.8 206.0 577.0 203.7 578.0 202.7 579.5 202.0 598.2 199.7 601.8 199.5 602.5 199.6 603.2 200.0 606.2 204.2 607.2 204.9 608.2 205.1 608.8 205.0 609.5 204.5 612.5 200.7 613.0 200.5 613.5 200.5 614.8 201.3 618.0 204.5 619.0 205.7 619.8 207.2 620.5 209.3 621.2 212.4 623.0 223.2 623.2 224.3 623.5 224.6 624.0 222.1 626.0 201.7 627.0 196.5 627.5 195.0 628.0 194.4 628.5 194.8 631.2 198.8 632.5 200.2 640.2 206.3 646.0 212.2 647.2 213.0 648.2 213.3 649.2 213.2 650.0 213.0 651.5 211.7 653.0 209.6 654.5 205.9 655.8 203.7 656.8 202.6 658.2 202.0 677.0 199.7 681.5 199.5 682.5 199.8 683.0 200.2 686.0 204.4 687.0 205.0 687.8 205.1 688.2 205.0 689.0 204.5 692.0 200.7 692.5 200.5 693.0 200.5 694.2 201.3 697.5 204.5 698.5 205.7 699.2 207.2 700.0 209.3 700.8 212.4 702.5 223.2 702.8 224.3 703.0 224.6 703.5 222.1 705.5 201.7 706.5 196.5 707.0 195.0 707.5 194.4 708.0 194.8 710.8 198.8 712.0 200.2 719.8 206.3 725.5 212.2 726.8 213.0 727.8 213.3 728.8 213.2 729.5 213.0 731.0 211.7 732.5 209.6 734.0 205.9 735.2 203.7 736.2 202.6 737.8 202.0 756.5 199.7 760.8 199.5 761.5 199.6 762.2 200.1 765.2 204.3 766.2 204.9 767.2 205.1 767.8 205.0 768.5 204.4 771.2 200.8 771.8 200.5 772.5 200.5 773.8 201.4 777.0 204.6 778.0 205.9 778.8 207.4 780.2 212.8 781.8 222.3 782.2 224.5 782.5 224.4 782.8 223.3 785.0 201.0 786.0 196.1 786.5 194.8 787.0 194.4 790.2 198.9 791.5 200.3 799.2 206.4 805.0 212.3 806.2 213.1 807.2 213.3 808.2 213.2 809.0 212.9 810.5 211.6 812.0 209.4 813.5 205.7 814.8 203.5 815.8 202.6 817.2 201.9 836.0 199.8 839.8 199.5 842.0 199.6 843.2 200.1 846.2 204.5 847.0 205.0 848.0 205.3 848.5 205.2 849.2 204.6 852.2 200.7 852.8 200.5 853.5 200.6 854.8 201.5 858.0 204.7 859.0 206.0 859.8 207.7 861.2 213.3 862.8 222.9 863.2 224.6 863.5 224.1 863.8 222.6 865.8 202.1 866.8 196.7 867.2 195.1 867.8 194.4 868.2 194.7 871.0 198.7 872.2 200.1 880.0 206.3 886.0 212.4 887.0 213.0 888.0 213.3 889.0 213.3 889.8 213.0 891.2 211.8 892.8 209.7 894.2 206.0 895.5 203.7 896.5 202.7 898.2 201.9 910.5 200.4 921.8 199.6 926.5 199.6 927.8 200.0 928.2 201.1 930.5 204.6 931.5 205.3 932.5 205.5 933.0 205.4 933.8 204.7 936.5 200.9 937.0 200.5 937.8 200.5 939.0 201.4 942.2 204.5 943.2 205.8 944.0 207.3 945.5 212.6 947.2 223.5 947.5 224.4 947.8 224.5 948.2 221.7 950.2 201.4 951.2 196.3 951.8 194.9 952.2 194.4 952.8 194.9 955.5 198.9 956.8 200.2 964.5 206.4 970.2 212.3 971.2 212.9 972.2 213.3 974.0 213.1 975.5 212.0 977.2 209.5 978.8 205.8 980.0 203.6 981.2 202.4 983.2 201.8 995.0 200.4 1007.2 199.6 1012.8 199.5 1013.8 199.7 1014.2 200.0 1014.8 201.3 1016.5 204.1 1017.5 205.1 1018.2 205.4 1019.0 205.5 1019.5 205.3 1020.2 204.6"/>
<path d="M21.5 255.2L33.0 255.0 33.8 255.1 34.0 255.3 36.0 256.0 37.5 255.5 40.8 252.9 42.2 252.5 43.2 253.1 45.2 254.9 46.5 255.5 48.8 255.9 51.2 255.7 52.5 256.1 54.2 257.8 55.5 260.2 56.5 261.0 56.8 260.9 58.8 256.5 60.8 255.3 61.2 255.2 65.0 257.0 72.0 259.6 74.2 261.1 78.8 264.8 79.8 265.3 80.8 265.4 81.8 265.3 82.8 264.9 84.5 263.5 85.8 262.0 87.2 259.0 88.5 257.1 89.2 256.2 90.0 255.8 91.5 255.7 96.0 255.9 102.2 255.9 113.8 254.9 114.8 255.0 117.0 255.8 117.8 255.9 119.2 255.3 122.2 252.9 123.5 252.5 124.5 252.9 126.8 254.9 128.2 255.6 130.2 255.9 132.8 255.7 134.0 256.1 135.8 257.8 137.0 260.2 138.0 261.0 138.2 260.9 140.2 256.5 142.2 255.3 142.8 255.2 146.5 257.0 153.5 259.6 155.8 261.1 160.2 264.8 161.2 265.3 162.2 265.4 163.2 265.3 164.2 264.9 166.0 263.5 167.2 262.0 168.8 259.0 170.0 257.1 170.8 256.2 171.5 255.8 172.8 255.7 178.0 256.0 197.5 255.7 199.0 255.8 201.5 256.7 202.5 256.5 203.2 256.2 206.2 253.7 207.8 253.3 209.0 254.0 210.8 255.6 212.2 256.4 214.5 256.7 217.2 256.2 218.5 256.6 219.8 257.8 221.0 260.7 221.8 261.6 222.0 261.7 224.2 256.5 226.2 255.3 227.0 255.3 230.5 257.0 235.2 258.7 237.5 259.7 239.8 261.3 244.2 265.1 245.2 265.5 246.2 265.7 248.0 265.3 249.8 264.0 251.2 262.2 252.8 259.1 253.8 257.7 254.5 257.0 255.5 256.6 257.0 256.5 262.5 256.7 284.5 256.3 286.2 256.4 287.0 257.0 288.8 257.3 290.2 256.6 292.5 255.0 295.0 254.6 297.8 256.2 299.5 256.8 300.8 256.9 303.0 256.4 304.2 256.7 305.0 257.3 305.5 258.1 306.5 261.0 307.2 262.3 307.5 262.4 307.8 262.2 308.5 259.4 309.8 256.6 310.2 256.2 312.2 255.4 313.2 255.6 323.0 259.9 325.2 261.5 329.8 265.4 331.0 266.1 332.0 266.2 333.8 265.8 335.2 264.6 336.8 262.7 338.5 259.1 339.2 258.0 340.0 257.3 341.2 256.8 351.8 256.9 367.0 256.3 367.8 256.4 368.5 256.9 370.5 257.6 372.2 256.9 373.8 256.6 377.2 255.5 380.2 256.9 381.0 256.9 383.2 256.4 384.5 256.8 385.5 257.9 386.8 261.4 387.5 262.4 387.8 262.3 388.0 261.7 388.5 259.6 389.8 256.7 390.2 256.2 391.5 256.1 392.8 255.5 393.8 255.7 403.0 260.0 405.5 261.7 410.0 265.8 411.0 266.3 412.0 266.5 413.8 266.1 415.2 264.9 417.0 262.6 418.5 259.4 419.2 258.2 420.2 257.2 421.2 256.8 433.5 256.9 444.0 256.3 445.5 256.5 447.8 257.8 448.5 258.0 449.2 257.8 453.0 256.0 455.2 255.4 458.5 256.9 459.2 256.9 461.5 256.4 462.8 256.8 463.8 257.8 465.0 261.3 465.8 262.4 466.0 262.4 466.8 259.8 468.2 256.4 468.8 256.2 469.8 256.3 470.8 255.7 471.5 255.6 481.2 260.0 483.8 261.8 488.2 266.0 489.2 266.5 490.2 266.7 492.0 266.3 493.5 265.2 495.2 262.9 496.8 259.6 497.8 258.0 498.5 257.3 499.8 256.8 511.0 256.9 523.0 256.3 524.5 256.5 526.8 257.8 527.5 258.0 528.2 257.8 532.0 256.0 534.2 255.4 537.5 256.9 538.2 256.9 540.5 256.4 541.8 256.8 542.8 257.8 544.0 261.3 544.8 262.4 545.0 262.4 545.8 259.8 547.2 256.4 547.8 256.2 548.8 256.3 549.8 255.7 550.5 255.6 551.2 255.8 560.2 260.1 562.8 262.0 567.2 266.2 568.2 266.8 569.2 267.0 571.0 266.6 572.8 265.1 574.2 263.1 575.8 259.7 576.8 258.1 577.5 257.3 578.5 256.8 580.0 256.7 584.5 256.9 590.5 256.9 601.8 256.3 603.2 256.5 605.5 257.9 606.2 258.1 607.0 257.9 610.8 256.1 612.8 255.4 613.5 255.6 616.2 256.9 617.0 256.9 619.2 256.4 620.5 256.8 621.5 257.9 622.8 261.4 623.5 262.4 623.8 262.3 624.5 259.6 625.5 257.2 626.0 256.4 626.5 256.2 627.5 256.3 628.8 255.6 629.8 255.7 639.0 260.2 641.5 262.0 646.0 266.2 647.0 266.8 648.0 267.0 649.8 266.5 651.5 265.1 653.0 263.0 654.8 259.1 656.0 257.4 657.0 256.9 658.5 256.7 663.0 256.9 669.0 256.9 681.2 256.3 682.8 256.5 685.0 257.9 685.8 258.1 686.5 257.9 690.2 256.1 692.2 255.4 693.0 255.6 695.8 256.9 696.5 256.9 698.8 256.4 700.0 256.8 701.0 257.9 702.2 261.4 703.0 262.4 703.2 262.3 704.0 259.6 705.0 257.2 705.5 256.4 706.0 256.2 707.0 256.3 708.2 255.6 709.2 255.7 718.5 260.2 721.0 262.0 725.5 266.2 726.5 266.8 727.5 267.0 729.2 266.5 731.0 265.1 732.5 263.0 734.2 259.1 735.5 257.4 736.5 256.9 738.0 256.7 742.8 256.9 748.8 256.9 760.5 256.3 762.2 256.5 764.2 257.8 765.2 258.1 769.8 256.0 771.8 255.4 775.2 256.9 778.0 256.4 779.5 256.9 780.5 258.1 781.5 261.0 782.2 262.3 782.5 262.4 782.8 262.2 783.5 259.4 784.8 256.6 785.2 256.2 786.5 256.3 787.8 255.6 788.5 255.7 798.0 260.2 800.5 262.1 804.8 266.1 806.0 266.8 807.0 267.0 808.5 266.6 810.0 265.5 811.8 263.2 813.5 259.4 814.5 257.9 815.5 257.0 817.0 256.7 826.0 256.9 841.5 256.3 843.2 256.5 843.8 257.1 845.2 258.0 846.2 258.2 850.5 256.1 852.8 255.4 856.0 256.9 856.8 256.9 859.0 256.4 860.2 256.8 861.2 257.8 862.5 261.3 863.2 262.4 863.5 262.4 864.2 259.8 865.8 256.4 866.2 256.2 867.2 256.3 868.5 255.6 869.2 255.6 878.8 260.1 881.2 262.0 885.8 266.2 886.8 266.8 887.8 267.0 889.5 266.6 891.0 265.4 892.8 263.1 894.2 259.7 895.5 257.8 896.5 257.0 897.8 256.7 904.8 256.9 926.5 256.3 927.8 256.4 928.2 257.2 929.8 258.2 930.5 258.5 931.2 258.3 936.5 255.5 937.2 255.4 940.5 256.9 943.2 256.4 944.8 256.9 945.8 258.0 946.8 260.9 947.8 262.4 948.0 262.3 948.8 259.5 950.0 256.6 950.5 256.3 951.8 256.3 952.8 255.7 953.5 255.6 963.2 260.2 965.8 262.1 970.2 266.3 971.2 266.8 972.2 267.0 974.0 266.5 975.5 265.3 977.2 262.9 978.8 259.5 979.5 258.3 980.5 257.2 981.5 256.8 983.0 256.7 988.8 257.0 1008.5 256.3 1014.2 256.4 1014.8 257.3 1016.2 258.3 1017.0 258.5 1020.2 257.0"/>
<path d="M21.5 307.4L29.8 308.3 33.0 308.4 33.8 308.2 34.0 307.7 35.8 306.4 37.0 306.1 38.0 306.4 42.0 308.6 42.5 308.7 43.2 308.3 46.0 305.9 50.2 302.8 51.0 302.0 51.8 300.7 53.0 296.9 54.2 290.5 55.8 279.4 56.2 277.5 56.5 277.7 56.8 279.1 59.0 305.0 60.0 310.7 60.8 312.5 61.2 312.0 63.5 307.1 65.0 304.6 72.2 296.8 74.5 293.5 78.8 286.0 80.0 284.7 81.0 284.4 82.0 284.5 82.8 285.1 83.5 286.0 84.5 287.8 85.8 291.0 87.2 297.1 88.8 302.2 89.5 303.7 90.5 304.6 92.0 305.1 95.8 305.2 103.2 306.2 111.8 308.2 113.8 308.4 114.8 308.3 117.5 306.2 118.5 306.1 119.5 306.4 123.5 308.6 124.2 308.6 127.5 305.9 131.8 302.8 132.8 301.6 133.5 300.2 134.2 297.9 135.0 294.6 136.0 288.8 137.2 279.4 137.8 277.5 138.0 277.7 138.2 279.1 140.5 305.0 141.5 310.7 142.2 312.5 142.8 312.0 145.0 307.1 146.5 304.6 153.8 296.8 156.0 293.5 160.2 286.0 161.5 284.7 162.5 284.4 163.5 284.5 164.2 285.1 165.0 286.0 166.0 287.8 167.2 291.0 168.8 297.1 170.2 302.2 171.0 303.7 172.2 304.8 173.5 305.1 177.5 305.3 185.8 306.3 197.2 306.9 199.0 306.7 201.5 304.7 202.5 304.4 203.5 304.7 207.8 307.1 208.2 307.1 209.0 306.7 212.0 304.0 216.2 301.1 217.0 300.2 217.8 298.8 218.8 295.6 219.8 290.5 221.2 278.1 221.8 276.0 222.0 276.3 222.2 278.1 224.2 303.0 225.2 309.5 225.8 311.5 226.2 312.4 226.5 312.4 226.8 311.9 229.2 306.6 230.5 304.6 237.8 296.5 240.0 293.1 244.2 285.4 245.5 284.1 246.5 283.8 247.5 284.0 248.2 284.5 249.8 286.8 251.2 290.6 252.8 296.9 254.0 300.7 254.8 302.1 256.0 303.1 257.5 303.5 261.5 303.7 269.2 304.8 278.8 305.5 284.5 305.7 285.8 305.6 286.5 305.3 287.0 304.3 288.5 302.7 289.0 302.3 289.8 302.1 291.2 302.6 294.2 305.0 295.0 305.8 295.5 306.0 296.5 305.4 300.2 301.7 302.5 299.9 303.0 299.2 303.8 297.6 304.5 294.9 305.2 291.0 306.8 277.6 307.2 274.7 307.5 274.6 307.8 276.0 310.0 304.2 311.0 309.8 311.5 311.4 312.0 312.0 312.5 311.4 315.0 306.4 316.2 304.4 322.2 297.5 324.2 294.8 330.0 284.3 331.0 283.2 332.0 282.8 333.0 282.9 333.8 283.4 335.2 285.7 336.8 289.5 338.5 297.1 339.5 300.1 340.2 301.5 341.5 302.6 343.0 303.0 347.0 303.3 363.0 305.5 366.0 305.7 367.5 305.3 370.2 300.3 370.8 299.8 371.5 299.6 372.8 300.0 373.5 300.5 376.5 305.0 377.0 305.5 377.5 305.6 378.2 304.9 380.5 301.5 382.8 299.7 383.2 299.0 384.0 297.1 384.8 294.2 385.5 290.1 387.0 276.5 387.5 274.5 387.8 275.3 388.0 277.7 390.0 303.4 391.0 309.0 391.8 311.2 392.2 311.5 393.5 309.6 396.2 304.6 402.2 297.4 404.2 294.7 410.0 284.0 411.0 282.8 412.0 282.3 413.0 282.4 413.8 282.8 414.5 283.7 415.5 285.6 417.0 289.7 418.5 296.5 419.5 299.7 420.2 301.3 421.5 302.5 423.0 303.0 427.0 303.2 433.2 304.0 441.8 305.5 444.0 305.7 444.8 305.5 445.5 305.0 448.2 299.8 448.8 299.2 449.5 299.0 450.8 299.5 451.5 300.1 454.5 305.0 455.0 305.6 455.5 305.6 456.5 304.6 458.8 301.6 461.0 299.8 461.5 299.1 462.2 297.3 463.0 294.5 463.8 290.4 465.2 276.8 465.8 274.5 466.0 275.0 466.2 277.1 468.2 303.0 469.2 308.5 470.0 310.6 470.5 311.2 471.0 310.8 472.0 309.3 473.5 306.3 474.8 304.3 480.2 297.6 482.2 294.9 484.0 291.9 488.5 283.2 489.5 282.1 490.5 281.8 491.5 282.0 492.2 282.5 493.8 285.0 495.2 289.1 496.8 296.1 497.8 299.4 498.5 301.2 499.8 302.5 501.5 303.0 505.8 303.3 514.0 304.4 520.8 305.6 523.0 305.7 524.0 305.4 524.5 305.1 527.2 299.8 527.8 299.2 528.5 299.0 529.8 299.5 530.5 300.1 533.5 305.0 534.0 305.6 534.5 305.6 535.5 304.6 537.8 301.6 540.0 299.8 540.5 299.1 541.2 297.3 542.0 294.5 542.8 290.4 544.2 276.8 544.8 274.5 545.0 275.0 545.2 277.1 547.2 303.0 548.2 308.5 549.0 310.6 549.5 311.2 550.0 310.8 551.0 309.3 552.5 306.3 553.8 304.3 559.2 297.4 561.2 294.6 563.0 291.6 567.5 282.7 568.5 281.6 569.5 281.3 570.5 281.5 571.2 282.1 572.8 284.6 574.2 288.8 575.8 295.8 577.0 300.0 577.8 301.5 579.0 302.6 580.5 303.0 584.8 303.3 593.0 304.4 599.5 305.6 601.8 305.7 602.5 305.5 603.2 305.0 606.0 299.5 606.5 299.0 607.2 298.8 608.5 299.3 609.2 300.0 612.2 305.1 612.8 305.6 613.2 305.6 614.2 304.6 616.5 301.5 618.8 299.7 619.2 299.0 620.0 297.1 620.8 294.2 621.5 290.1 623.0 276.5 623.5 274.5 623.8 275.3 624.0 277.7 626.0 303.4 627.0 308.7 627.8 310.7 628.2 311.2 629.5 309.7 631.2 306.2 632.5 304.2 638.0 297.4 640.0 294.6 641.8 291.5 646.0 283.0 647.2 281.6 648.2 281.3 649.2 281.5 650.0 282.1 651.5 284.7 653.0 288.9 654.5 296.0 655.5 299.4 656.2 301.2 657.5 302.5 659.2 303.0 663.2 303.3 671.8 304.4 678.8 305.6 681.2 305.7 682.2 305.4 682.8 305.0 685.5 299.5 686.0 299.0 686.8 298.8 688.0 299.3 688.8 300.0 691.8 305.1 692.2 305.6 692.8 305.6 693.8 304.6 696.0 301.5 698.2 299.7 698.8 299.0 699.5 297.1 700.2 294.2 701.0 290.1 702.5 276.5 703.0 274.5 703.2 275.3 703.5 277.7 705.5 303.4 706.5 308.7 707.2 310.7 707.8 311.2 709.0 309.7 710.8 306.2 712.0 304.2 717.5 297.4 719.5 294.6 721.2 291.5 725.5 283.0 726.8 281.6 727.8 281.3 728.8 281.5 729.5 282.1 731.0 284.7 732.5 288.9 734.0 296.0 735.0 299.4 735.8 301.2 737.0 302.5 738.8 303.0 742.8 303.3 751.2 304.4 758.0 305.5 760.5 305.7 761.5 305.5 762.2 304.9 764.8 299.7 765.2 299.1 766.0 298.8 767.0 299.1 768.0 299.8 771.2 305.2 771.8 305.6 772.2 305.5 773.0 304.8 775.2 301.7 777.8 299.6 779.0 296.8 780.2 291.0 781.8 277.6 782.2 274.7 782.5 274.6 782.8 276.0 785.0 304.1 786.0 309.0 786.5 310.4 787.0 311.1 787.5 310.9 788.5 309.5 790.2 306.0 791.5 304.1 796.8 297.6 798.8 294.8 800.8 291.3 805.0 282.9 806.0 281.7 807.0 281.3 808.0 281.4 808.8 282.0 809.5 282.9 810.2 284.4 811.8 288.4 813.5 296.4 814.5 299.7 815.2 301.4 816.5 302.6 818.0 303.0 822.0 303.2 838.0 305.5 841.5 305.7 842.5 305.5 843.2 304.9 845.8 299.3 846.2 298.8 847.0 298.5 848.2 299.0 849.0 299.7 852.0 305.0 852.5 305.5 853.0 305.6 854.0 304.7 856.2 301.6 858.5 299.8 859.0 299.1 859.8 297.3 860.5 294.5 861.2 290.4 862.8 276.8 863.2 274.5 863.5 275.0 863.8 277.1 865.8 303.0 866.8 308.5 867.5 310.6 868.0 311.2 868.5 310.8 869.5 309.3 871.0 306.3 872.2 304.3 877.8 297.4 879.8 294.6 881.5 291.6 886.0 282.7 887.0 281.6 888.0 281.3 889.0 281.5 889.8 282.1 891.2 284.6 892.8 288.8 894.2 295.8 895.5 300.0 896.2 301.5 897.5 302.6 899.0 303.0 903.0 303.3 919.8 305.4 923.8 305.7 926.0 305.7 927.0 305.5 927.8 305.1 928.2 303.1 930.0 299.2 930.8 298.2 931.5 298.1 932.8 298.6 933.5 299.3 936.5 305.1 937.0 305.6 937.5 305.5 938.2 304.9 940.8 301.5 943.0 299.7 943.5 298.9 944.2 297.0 945.0 294.0 945.8 289.7 947.0 278.0 947.5 274.8 947.8 274.5 948.2 278.3 950.2 303.8 951.2 308.9 951.8 310.3 952.2 311.1 952.8 311.0 953.8 309.6 955.5 306.1 956.8 304.1 963.8 295.2 965.8 291.9 970.2 282.9 971.2 281.8 972.2 281.3 973.2 281.4 974.0 281.9 974.8 282.9 975.5 284.3 977.2 289.1 978.8 296.2 980.0 300.3 981.0 302.0 982.2 302.8 983.5 303.0 987.2 303.2 993.5 304.1 1004.5 305.3 1009.2 305.7 1012.2 305.7 1013.5 305.5 1014.2 305.1 1014.8 302.9 1016.5 299.0 1017.2 298.2 1018.0 298.1 1019.0 298.5 1020.2 299.9"/>
<path d="M16.5 349.7L27.9 349.8 33.2 349.7 35.3 349.3 37.7 348.0 38.5 347.9 39.6 348.3 43.5 350.9 44.7 351.2 45.7 351.0 49.0 349.9 51.3 348.6 51.7 348.2 52.4 345.7 52.9 340.7 55.0 292.3 55.6 285.3 56.0 283.2 56.3 284.3 56.8 287.4 57.6 298.0 58.9 333.3 59.4 342.9 60.3 349.9 61.2 352.6 61.8 353.5 62.2 353.4 63.8 351.9 71.9 347.3 77.7 343.1 79.5 342.1 81.2 341.7 82.3 341.8 83.5 342.4 87.2 345.5 89.2 346.7 94.9 348.5 100.7 349.6 106.8 350.0 114.3 349.7 116.3 349.4 119.0 348.1 120.0 347.9 121.1 348.3 124.9 350.9 126.2 351.2 127.2 351.0 130.5 349.9 133.0 348.4 133.4 347.8 133.8 346.2 134.3 341.2 136.5 292.3 137.1 285.3 137.5 283.2 137.8 284.3 138.3 287.4 139.1 298.0 140.4 333.3 140.9 342.9 141.8 349.9 142.7 352.6 143.3 353.5 143.7 353.4 145.3 351.9 153.4 347.3 159.2 343.1 161.0 342.1 162.7 341.7 163.8 341.8 165.0 342.4 168.7 345.5 170.7 346.7 176.2 348.5 181.8 349.6 189.2 350.0 198.4 349.7 200.8 349.3 203.2 348.0 204.0 347.9 205.1 348.3 208.9 350.9 210.2 351.2 214.3 350.0 216.8 348.6 217.4 347.8 217.7 346.7 218.3 341.5 220.5 292.3 221.1 285.3 221.5 283.2 221.8 284.3 222.3 287.4 223.1 298.0 224.4 333.3 224.9 342.9 225.8 349.9 226.7 352.6 227.3 353.5 227.7 353.4 229.3 351.9 237.4 347.3 243.2 343.1 245.0 342.1 246.7 341.7 247.8 341.8 249.0 342.4 252.7 345.5 254.7 346.7 260.3 348.6 265.8 349.6 273.7 350.0 284.0 349.7 286.5 349.3 288.8 348.0 289.6 347.9 290.7 348.3 294.6 350.9 295.8 351.2 299.9 350.0 302.4 348.6 303.0 347.8 303.3 346.7 303.9 341.5 306.1 292.3 306.7 285.3 307.1 283.2 307.4 284.3 307.9 287.4 308.7 298.0 310.0 333.3 310.5 342.9 311.4 349.9 312.3 352.6 312.9 353.5 313.3 353.4 314.9 351.9 323.0 347.3 328.8 343.1 330.6 342.1 332.3 341.7 333.4 341.8 334.6 342.4 338.3 345.5 340.3 346.7 345.8 348.4 351.8 349.6 357.4 350.0 364.0 349.7 365.9 349.4 368.6 348.1 369.7 347.9 370.8 348.3 374.6 350.9 375.9 351.2 376.9 351.0 380.2 349.9 382.7 348.4 383.1 347.8 383.5 346.2 384.0 341.2 386.2 292.3 386.8 285.3 387.2 283.2 387.5 284.3 388.0 287.4 388.8 298.0 390.1 333.3 390.6 342.9 391.5 349.9 392.4 352.6 393.0 353.5 393.4 353.4 395.0 351.9 403.1 347.3 408.9 343.1 410.7 342.1 412.4 341.7 413.5 341.8 414.7 342.4 418.4 345.5 420.4 346.7 426.0 348.4 432.2 349.7 437.1 350.0 442.5 349.7 444.4 349.3 447.1 348.0 448.0 347.9 449.1 348.3 452.9 350.9 454.2 351.2 455.2 351.0 458.5 349.9 461.0 348.4 461.4 347.8 461.8 346.2 462.3 341.2 464.5 292.3 465.1 285.3 465.5 283.2 465.8 284.3 466.3 287.4 467.1 298.0 468.4 333.3 468.9 342.9 469.8 349.9 470.7 352.6 471.3 353.5 471.7 353.4 473.3 351.9 481.4 347.3 487.2 343.1 489.0 342.1 490.7 341.7 491.8 341.8 493.0 342.4 496.7 345.5 498.7 346.7 504.2 348.4 510.5 349.7 515.6 350.0 521.5 349.7 523.1 349.4 525.9 348.1 527.0 347.9 528.1 348.3 532.0 350.9 533.2 351.2 534.2 351.0 537.5 349.9 540.0 348.4 540.4 347.8 540.8 346.2 541.3 341.2 543.5 292.3 544.1 285.3 544.5 283.2 544.8 284.3 545.3 287.4 546.1 298.0 547.4 333.3 547.9 342.9 548.8 349.9 549.7 352.6 550.3 353.5 550.7 353.4 552.3 351.9 560.4 347.3 566.2 343.1 568.0 342.1 569.7 341.7 570.8 341.8 572.0 342.4 575.7 345.5 577.7 346.7 583.3 348.4 589.5 349.7 594.7 350.0 600.2 349.7 601.8 349.4 604.6 348.1 605.7 347.9 606.8 348.3 610.6 350.9 611.9 351.2 612.9 351.0 616.2 349.9 618.7 348.4 619.1 347.8 619.5 346.2 620.0 341.2 622.2 292.3 622.8 285.3 623.2 283.2 623.5 284.3 624.0 287.4 624.8 298.0 626.1 333.3 626.6 342.9 627.5 349.9 628.4 352.6 629.0 353.5 629.4 353.4 631.0 351.9 639.1 347.3 644.9 343.1 646.7 342.1 648.4 341.7 649.5 341.8 650.7 342.4 654.4 345.5 656.4 346.7 661.9 348.4 668.2 349.7 673.5 350.0 679.7 349.7 681.3 349.4 684.1 348.1 685.2 347.9 686.3 348.3 690.1 350.9 691.4 351.2 692.4 351.0 695.7 349.9 698.2 348.4 698.6 347.8 699.0 346.2 699.5 341.2 701.7 292.3 702.3 285.3 702.7 283.2 703.0 284.3 703.5 287.4 704.3 298.0 705.6 333.3 706.1 342.9 707.0 349.9 707.9 352.6 708.5 353.5 708.9 353.4 710.5 351.9 718.6 347.3 724.4 343.1 726.2 342.1 727.9 341.7 729.0 341.8 730.2 342.4 733.9 345.5 735.9 346.7 741.4 348.4 747.7 349.7 753.1 350.0 759.1 349.7 760.7 349.4 763.5 348.1 764.6 347.9 765.7 348.3 769.5 350.9 770.8 351.2 771.8 351.0 775.1 349.9 777.6 348.4 778.0 347.8 778.4 346.2 778.9 341.2 781.1 292.3 781.7 285.3 782.1 283.2 782.4 284.3 782.9 287.4 783.7 298.0 785.0 333.3 785.5 342.9 786.4 349.9 787.3 352.6 787.9 353.5 788.3 353.4 789.9 351.9 798.0 347.3 803.8 343.1 805.6 342.1 807.3 341.7 808.4 341.8 809.6 342.4 813.3 345.5 815.3 346.7 820.7 348.4 826.8 349.6 832.7 350.0 839.8 349.7 841.7 349.4 844.5 348.1 845.5 347.9 846.6 348.3 850.5 350.9 851.7 351.2 852.7 351.0 856.0 349.9 858.5 348.4 858.9 347.8 859.3 346.2 859.8 341.2 862.0 292.3 862.6 285.3 863.0 283.2 863.3 284.3 863.8 287.4 864.6 298.0 865.9 333.3 866.4 342.9 867.3 349.9 868.2 352.6 868.8 353.5 869.2 353.4 870.8 351.9 878.9 347.3 884.7 343.1 886.5 342.1 888.2 341.7 889.3 341.8 890.5 342.4 894.2 345.5 896.2 346.7 901.7 348.5 907.3 349.6 914.7 350.0 924.3 349.7 926.7 349.3 929.1 348.0 929.9 347.9 931.0 348.3 934.9 350.9 936.1 351.2 940.2 350.0 942.7 348.6 943.3 347.8 943.6 346.7 944.2 341.5 946.4 292.3 947.0 285.3 947.4 283.2 947.7 284.3 948.2 287.4 949.0 298.0 950.3 333.0 950.8 342.5 951.7 349.6 952.3 351.9 953.0 353.4 953.6 353.4 955.2 351.9 963.0 347.4 969.4 342.9 971.2 342.0 972.6 341.7 973.7 341.8 974.9 342.4 978.6 345.5 980.6 346.7 985.9 348.5 991.4 349.6 999.5 350.0 1010.5 349.7 1013.2 349.3 1015.5 348.0 1016.3 347.9 1017.4 348.3 1021.2 350.9 1022.5 351.2 1026.6 350.0 1029.1 348.6 1029.7 347.8 1030.0 346.7 1030.6 341.5 1032.8 292.3 1033.4 285.3 1033.8 283.2 1034.1 284.3 1034.6 287.4 1035.4 298.0 1036.7 332.8 1037.2 342.1 1038.0 349.2 1038.5 351.3 1039.2 353.1 1039.6 353.5 1040.0 353.4 1041.6 351.9 1049.4 347.4 1055.5 343.1 1057.3 342.1 1058.8 341.7 1060.1 341.8 1061.3 342.4 1065.3 345.7 1067.2 346.8 1070.6 347.6 1078.7 348.9 1080.2 349.4 1079.8 349.6 1078.2 349.8 1071.4 349.9 1035.5 349.7"/>
<path d="M16.5 422.9L27.9 423.0 33.2 422.9 35.3 422.5 37.7 421.2 38.5 421.1 39.6 421.5 43.2 423.8 44.7 424.1 49.3 423.0 50.4 422.3 51.3 421.9 51.7 421.2 52.2 418.6 52.6 413.3 55.0 349.1 55.6 336.8 56.1 332.8 56.5 335.8 57.0 344.8 59.7 417.7 60.3 424.7 60.6 425.4 61.4 426.0 61.9 426.2 63.2 425.8 67.7 422.9 76.8 416.5 80.6 413.5 81.5 413.1 82.5 412.8 83.7 413.1 84.6 413.7 88.2 418.2 89.9 419.7 93.6 421.3 98.2 422.5 104.5 423.2 112.9 423.0 116.3 422.6 119.0 421.3 120.0 421.1 121.1 421.5 124.7 423.8 126.2 424.1 130.8 423.0 132.9 421.8 133.6 419.7 134.1 413.8 136.5 348.7 137.1 336.8 137.6 332.8 138.0 335.8 138.5 344.8 141.2 417.7 141.8 424.7 142.1 425.4 142.9 426.0 143.4 426.2 144.7 425.8 149.2 422.9 158.3 416.5 162.1 413.5 163.0 413.1 164.0 412.8 165.2 413.1 166.1 413.7 169.7 418.2 171.4 419.7 175.2 421.4 179.8 422.5 183.4 423.0 186.9 423.2 197.0 423.0 200.4 422.6 201.6 422.2 203.2 421.2 204.0 421.1 205.1 421.5 208.7 423.8 210.2 424.1 214.8 423.0 216.9 421.8 217.6 419.7 218.1 413.8 220.5 348.7 221.1 336.8 221.6 332.8 222.0 335.8 222.5 344.8 225.2 417.7 225.8 424.7 226.1 425.4 226.9 426.0 227.4 426.2 228.7 425.8 233.2 422.9 242.3 416.5 246.1 413.5 247.0 413.1 248.0 412.8 249.2 413.1 250.1 413.7 253.7 418.2 255.4 419.7 259.1 421.4 263.7 422.5 267.3 423.0 271.3 423.2 282.6 423.0 286.1 422.6 287.3 422.2 288.8 421.2 289.6 421.1 290.7 421.5 294.3 423.8 295.8 424.1 300.4 423.0 302.5 421.8 303.2 419.7 303.7 413.8 306.1 348.7 306.7 336.8 307.2 332.8 307.6 335.8 308.1 344.8 310.8 417.7 311.4 424.7 311.7 425.4 312.5 426.0 313.0 426.2 314.3 425.8 318.8 422.9 327.9 416.5 331.7 413.5 332.6 413.1 333.6 412.8 334.8 413.1 335.7 413.7 339.3 418.2 341.0 419.7 344.5 421.3 349.1 422.4 355.1 423.1 362.3 423.1 365.6 422.7 368.6 421.3 369.7 421.1 370.8 421.5 374.4 423.8 375.9 424.1 380.5 423.0 382.6 421.8 383.3 419.7 383.8 413.8 386.2 348.7 386.8 336.8 387.3 332.8 387.7 335.8 388.2 344.8 390.9 417.7 391.5 424.7 391.8 425.4 392.6 426.0 393.1 426.2 394.4 425.8 398.9 422.9 408.0 416.5 411.8 413.5 412.7 413.1 413.7 412.8 414.9 413.1 415.8 413.7 419.4 418.2 421.1 419.7 424.4 421.2 429.1 422.4 434.5 423.1 440.6 423.1 443.8 422.7 446.9 421.3 448.0 421.1 449.1 421.5 452.7 423.8 454.2 424.1 458.8 423.0 460.9 421.8 461.6 419.7 462.1 413.8 464.5 348.7 465.1 336.8 465.6 332.8 466.0 335.8 466.5 344.8 469.2 417.7 469.8 424.7 470.1 425.4 470.9 426.0 471.4 426.2 472.7 425.8 477.2 422.9 486.3 416.5 490.1 413.5 491.0 413.1 492.0 412.8 493.2 413.1 494.1 413.7 497.7 418.2 499.4 419.7 502.9 421.3 507.6 422.4 513.3 423.1 519.6 423.1 522.8 422.7 525.9 421.3 527.0 421.1 528.1 421.5 531.7 423.8 533.2 424.1 537.8 423.0 539.9 421.8 540.6 419.7 541.1 413.8 543.5 348.7 544.1 336.8 544.6 332.8 545.0 335.8 545.5 344.8 548.2 417.4 548.8 424.7 549.1 425.4 550.2 426.2 551.2 426.1 552.4 425.4 556.4 422.8 565.3 416.5 568.9 413.7 570.0 413.1 571.0 412.8 572.2 413.1 573.1 413.7 576.7 418.2 578.4 419.7 581.9 421.3 586.6 422.4 592.1 423.1 598.5 423.1 601.5 422.7 604.6 421.3 605.7 421.1 606.8 421.5 610.4 423.8 611.9 424.1 616.5 423.0 618.6 421.8 619.3 419.7 619.8 413.8 622.2 348.7 622.8 336.8 623.3 332.8 623.7 335.8 624.2 344.8 626.9 417.4 627.5 424.7 627.8 425.4 628.9 426.2 629.9 426.1 631.1 425.4 635.1 422.8 644.0 416.5 647.6 413.7 648.7 413.1 649.7 412.8 650.9 413.1 651.8 413.7 655.4 418.2 657.1 419.7 660.6 421.3 665.3 422.4 671.0 423.1 677.8 423.1 681.0 422.7 684.1 421.3 685.2 421.1 686.3 421.5 689.9 423.8 691.4 424.1 696.0 423.0 698.1 421.8 698.8 419.7 699.3 413.8 701.7 348.7 702.3 336.8 702.8 332.8 703.2 335.8 703.7 344.8 706.4 417.4 707.0 424.7 707.3 425.4 708.4 426.2 709.4 426.1 710.6 425.4 714.6 422.8 723.5 416.5 727.1 413.7 728.2 413.1 729.2 412.8 730.4 413.1 731.3 413.7 734.9 418.2 736.6 419.7 740.1 421.3 744.8 422.4 750.5 423.1 757.2 423.1 760.4 422.7 763.5 421.3 764.6 421.1 765.7 421.5 769.3 423.8 770.8 424.1 775.4 423.0 777.5 421.8 778.2 419.7 778.7 413.8 781.1 348.7 781.7 336.8 782.2 332.8 782.6 335.8 783.1 344.8 785.8 417.1 786.3 424.5 786.6 425.3 787.6 426.1 788.6 426.1 789.8 425.5 794.0 422.8 802.9 416.5 806.5 413.7 807.6 413.1 808.6 412.8 809.8 413.1 810.7 413.7 814.3 418.2 816.0 419.7 819.7 421.3 824.3 422.5 830.4 423.1 838.4 423.0 841.4 422.7 842.6 422.3 844.6 421.2 845.5 421.1 846.6 421.5 850.2 423.8 851.7 424.1 856.3 423.0 858.4 421.8 859.1 419.7 859.6 413.8 862.0 348.7 862.6 336.8 863.1 332.8 863.5 335.8 864.0 344.8 866.7 417.1 867.2 424.5 867.5 425.3 868.5 426.1 869.5 426.1 870.7 425.5 874.9 422.8 883.8 416.5 887.4 413.7 888.5 413.1 889.5 412.8 890.7 413.1 891.6 413.7 895.2 418.2 896.9 419.7 900.7 421.4 905.3 422.5 908.9 423.0 912.4 423.2 922.9 423.0 926.4 422.6 927.5 422.2 929.1 421.2 929.9 421.1 931.0 421.5 934.6 423.8 936.1 424.1 940.7 423.0 942.8 421.8 943.5 419.7 944.0 413.8 946.4 348.7 947.0 336.8 947.5 332.8 947.9 335.7 948.4 344.3 950.7 408.9 951.2 419.9 951.7 424.9 952.8 426.0 953.5 426.2 954.8 425.7 959.3 422.8 968.2 416.5 971.8 413.7 972.9 413.1 973.9 412.8 975.1 413.1 976.0 413.7 979.6 418.2 981.3 419.7 985.0 421.4 989.5 422.5 993.2 423.0 997.2 423.2 1009.3 423.0 1012.9 422.6 1014.1 422.2 1015.5 421.2 1016.3 421.1 1017.4 421.5 1021.0 423.8 1022.5 424.1 1027.1 423.0 1029.2 421.8 1029.9 419.7 1030.4 413.8 1032.8 348.7 1033.4 336.6 1033.7 333.6 1034.0 332.8 1034.4 336.0 1034.8 345.4 1037.3 414.1 1037.8 422.8 1038.2 425.1 1039.5 426.2 1040.1 426.2 1041.0 425.8 1046.5 422.3 1054.9 416.3 1058.2 413.7 1059.3 413.1 1060.3 412.8 1061.5 413.1 1062.4 413.7 1066.2 418.5 1068.2 420.0 1070.9 420.8 1079.1 422.3 1080.3 422.6 1078.0 423.0 1070.8 423.1 1035.5 422.9"/>
<path d="M16.5 486.7L28.7 486.9 34.2 486.7 35.3 486.5 36.5 485.9 37.2 485.2 38.2 483.8 39.0 483.5 39.8 483.8 41.0 485.0 43.0 486.4 43.7 486.7 44.7 486.7 45.9 486.0 47.1 484.6 50.7 477.9 51.6 474.6 52.2 469.1 54.6 413.4 55.5 400.5 55.8 397.6 56.1 396.6 56.4 397.7 56.8 401.0 57.6 413.3 57.9 424.1 58.8 465.7 59.5 478.1 60.4 486.9 60.7 487.8 61.5 488.7 62.4 488.9 64.5 489.0 65.7 489.3 69.5 491.1 72.5 492.8 74.7 494.9 77.5 498.1 78.6 499.7 79.2 500.1 79.7 500.0 80.4 499.3 82.4 496.2 83.5 493.7 85.6 487.8 86.5 485.9 88.6 483.4 89.7 482.5 91.0 481.8 92.4 481.6 94.3 481.9 98.8 483.2 104.9 485.5 109.1 486.4 113.7 487.0 114.9 486.9 116.0 486.6 119.3 483.9 120.5 483.5 121.3 483.8 122.5 485.0 124.4 486.4 125.2 486.7 126.2 486.7 126.9 486.4 127.7 485.7 129.5 483.1 132.5 477.2 133.0 475.0 133.5 471.4 136.1 413.0 137.0 400.3 137.3 397.6 137.6 396.6 137.9 397.7 138.3 401.0 139.1 413.3 139.4 424.1 140.3 465.7 141.0 478.1 141.9 486.9 142.2 487.8 143.0 488.7 143.9 488.9 146.0 489.0 147.2 489.3 151.0 491.1 154.0 492.8 156.2 494.9 159.0 498.1 160.1 499.7 160.7 500.1 161.2 500.0 161.9 499.3 163.9 496.2 165.0 493.7 167.2 487.5 168.1 485.6 170.4 483.1 171.7 482.2 172.7 481.7 174.4 481.6 177.1 482.2 180.5 483.3 185.1 485.1 187.8 485.9 191.4 486.5 196.9 487.1 198.8 487.1 200.3 486.7 201.5 486.0 203.6 484.2 204.5 483.8 205.3 484.0 208.7 486.6 209.4 486.8 210.4 486.8 211.7 486.1 213.3 483.9 216.4 477.9 217.0 475.7 217.5 472.3 217.9 465.8 220.1 413.4 221.0 400.5 221.3 397.8 221.6 396.9 221.9 397.9 222.3 401.3 223.1 413.6 223.4 424.4 224.3 466.0 225.0 478.3 225.9 487.2 226.2 488.1 227.0 488.9 231.2 489.3 235.0 490.9 238.0 492.5 240.2 494.3 243.1 497.1 244.1 498.4 244.7 498.8 245.2 498.6 245.9 497.9 247.8 495.0 249.0 492.6 250.7 488.1 251.9 485.6 254.1 483.4 256.5 482.0 258.2 481.9 260.8 482.4 264.5 483.5 269.1 485.4 271.3 486.0 282.0 488.0 284.7 488.3 286.0 488.2 286.9 487.9 289.6 485.9 291.4 484.8 292.1 484.6 292.8 485.0 294.6 487.0 295.5 487.7 296.3 488.1 297.0 488.1 298.2 487.1 300.5 483.2 301.9 481.8 302.3 480.7 302.7 479.0 303.2 473.8 305.7 415.8 306.6 402.1 306.9 399.2 307.2 398.3 307.6 399.7 308.0 403.9 308.8 418.7 309.7 463.1 310.2 474.7 311.4 488.3 311.9 489.5 312.8 490.1 315.9 489.6 317.5 489.6 323.8 490.5 328.1 491.5 329.9 491.6 331.0 490.8 335.9 485.2 337.0 484.2 338.9 483.5 342.1 483.2 343.8 483.3 346.4 483.9 350.1 485.0 355.5 486.9 362.3 488.3 364.6 489.0 366.1 488.7 368.8 487.4 370.2 486.4 371.7 484.8 372.2 484.5 372.6 484.6 373.1 484.9 374.7 487.1 376.4 488.7 376.9 488.9 377.4 488.8 378.3 488.0 380.5 484.5 381.7 483.6 382.3 482.9 382.7 481.4 383.1 478.7 383.5 472.1 385.8 416.2 386.7 402.8 387.0 399.8 387.3 398.9 387.7 400.3 388.1 404.5 388.9 419.4 389.8 463.5 390.3 474.6 390.9 482.8 391.5 489.0 391.9 490.0 392.7 490.6 393.6 490.6 396.9 489.7 404.8 489.5 408.8 489.0 410.4 488.0 412.4 486.0 414.5 484.3 415.9 483.5 417.1 483.1 423.0 483.8 425.2 484.2 430.0 485.5 435.6 487.5 442.4 488.9 443.2 489.3 445.6 488.4 448.0 487.1 448.8 486.4 450.0 484.8 450.7 484.4 451.3 484.8 453.0 487.2 454.4 488.7 455.2 489.2 455.7 489.2 456.8 488.2 458.8 485.0 460.2 484.0 460.8 483.0 461.1 481.6 461.6 476.5 464.0 417.1 464.9 403.3 465.3 400.1 465.6 399.1 466.0 400.6 466.4 404.8 467.2 419.6 468.1 463.6 468.6 474.8 469.2 482.8 469.8 489.2 470.2 490.3 471.0 490.8 471.9 490.8 474.9 489.8 482.2 489.2 486.3 488.3 487.6 487.7 490.4 484.9 492.0 483.7 493.4 483.0 494.7 482.7 495.7 482.8 499.2 483.7 504.3 484.7 508.3 485.8 514.1 487.8 521.8 489.4 524.1 488.6 527.0 487.1 527.8 486.4 529.0 484.8 529.7 484.4 530.3 484.8 532.0 487.2 533.4 488.7 534.2 489.2 534.7 489.2 535.8 488.2 537.8 485.0 539.2 484.0 539.8 483.0 540.1 481.6 540.6 476.5 543.0 417.1 543.9 403.3 544.3 400.1 544.6 399.1 545.0 400.6 545.4 404.8 546.2 419.6 547.1 463.6 547.6 474.8 548.2 482.8 548.8 489.2 549.2 490.3 550.0 490.8 550.9 490.8 553.9 489.8 561.2 489.2 565.3 488.3 566.6 487.7 569.4 484.9 571.0 483.7 572.4 483.0 573.7 482.7 574.7 482.8 578.2 483.7 583.3 484.7 587.3 485.8 592.9 487.7 600.7 489.4 603.3 488.4 605.7 487.1 606.5 486.4 607.7 484.8 608.4 484.4 609.0 484.8 610.7 487.2 612.1 488.7 612.9 489.2 613.4 489.2 614.5 488.2 616.5 485.0 617.9 484.0 618.5 483.0 618.8 481.6 619.3 476.5 621.7 417.1 622.6 403.3 623.0 400.1 623.3 399.1 623.7 400.6 624.1 404.8 624.9 419.6 625.8 463.6 626.3 474.8 626.9 482.8 627.5 489.2 627.9 490.3 628.7 490.8 629.6 490.8 632.6 489.8 639.9 489.2 644.0 488.3 645.3 487.7 648.1 484.9 649.7 483.7 651.1 483.0 652.4 482.7 653.4 482.8 656.9 483.7 661.7 484.6 666.0 485.8 672.1 487.8 679.8 489.4 681.8 488.9 685.0 487.3 686.0 486.4 687.2 484.8 687.9 484.4 688.5 484.8 690.2 487.2 691.6 488.7 692.4 489.2 692.9 489.2 694.0 488.2 696.0 485.0 697.4 484.0 698.0 483.0 698.3 481.6 698.8 476.5 701.2 417.1 702.1 403.3 702.5 400.1 702.8 399.1 703.2 400.6 703.6 404.8 704.4 419.6 705.3 463.6 705.8 474.8 706.4 482.8 707.0 489.2 707.4 490.3 708.2 490.8 709.1 490.8 712.1 489.8 719.4 489.2 723.5 488.3 724.8 487.7 727.6 484.9 729.2 483.7 730.6 483.0 731.9 482.7 732.9 482.8 736.4 483.7 741.2 484.6 745.5 485.8 751.6 487.8 759.3 489.4 761.7 488.6 764.6 487.1 765.4 486.4 766.6 484.8 767.3 484.4 767.9 484.8 769.6 487.2 771.0 488.7 771.8 489.2 772.3 489.2 773.4 488.2 775.4 485.0 776.8 484.0 777.4 483.0 777.7 481.6 778.2 476.5 780.6 417.1 781.5 403.3 781.9 400.1 782.2 399.1 782.6 400.6 783.0 404.8 783.8 419.6 784.7 463.4 785.1 474.0 785.7 482.3 786.4 489.0 786.7 490.1 787.5 490.8 788.5 490.8 791.8 489.7 798.6 489.2 802.9 488.3 804.2 487.7 807.0 484.9 808.9 483.5 810.2 482.9 811.6 482.7 822.5 485.1 832.5 488.2 836.4 489.1 839.3 489.4 841.4 489.1 844.3 487.8 846.0 486.7 847.5 484.8 848.2 484.4 848.8 484.8 850.5 487.2 852.2 489.0 852.7 489.2 853.2 489.2 854.1 488.4 856.3 485.0 857.6 484.1 858.0 483.6 858.5 482.2 858.9 479.4 859.3 472.8 861.6 416.6 862.5 403.0 862.8 400.1 863.1 399.1 863.5 400.6 863.9 404.8 864.7 419.6 865.6 463.2 866.0 473.4 866.6 482.1 867.3 488.7 867.6 490.0 868.2 490.7 869.1 490.8 872.7 489.7 879.5 489.2 883.8 488.3 885.1 487.7 887.9 484.9 889.8 483.5 891.1 482.9 892.5 482.7 903.4 485.1 910.9 487.5 914.8 488.6 917.7 489.1 920.8 489.4 924.7 489.3 927.4 488.6 930.4 486.7 931.9 484.8 932.6 484.4 933.2 484.8 934.9 487.2 936.6 489.0 937.3 489.3 938.3 488.6 940.7 485.0 942.0 484.1 942.4 483.6 942.9 482.2 943.3 479.6 943.7 472.8 946.0 416.6 946.9 403.0 947.2 400.1 947.5 399.1 947.9 400.6 948.3 404.8 949.1 419.8 950.3 472.0 951.3 484.9 951.7 489.2 952.2 490.4 952.8 490.8 953.3 490.8 956.8 489.8 963.9 489.2 968.0 488.4 969.5 487.7 972.3 484.9 974.2 483.5 975.5 482.9 976.9 482.7 987.8 485.1 995.0 487.5 999.4 488.7 1002.0 489.1 1005.4 489.4 1010.5 489.4 1013.4 488.9 1014.7 488.3 1016.5 487.0 1018.3 484.8 1019.0 484.4 1019.6 484.8 1021.3 487.2 1023.0 489.0 1023.7 489.3 1024.7 488.6 1027.1 485.0 1028.4 484.1 1028.8 483.6 1029.3 482.2 1029.7 479.6 1030.1 472.8 1032.4 416.6 1033.3 403.0 1033.6 400.1 1033.9 399.1 1034.3 400.6 1034.7 404.8 1035.5 419.8 1036.7 471.5 1037.5 483.7 1038.1 489.0 1038.4 490.1 1039.0 490.7 1039.7 490.8 1043.2 489.8 1050.3 489.2 1054.2 488.5 1055.9 487.7 1058.7 484.9 1060.6 483.5 1061.9 482.9 1063.3 482.7 1074.2 485.1 1082.5 487.8 1091.5 489.1 1080.5 488.9 1035.5 486.7"/>
<path d="M16.5 542.4L28.7 542.6 34.2 542.4 36.5 541.8 37.2 541.4 38.4 540.2 39.0 540.0 42.7 541.2 45.5 541.3 46.5 540.9 47.4 540.0 48.7 538.1 49.8 535.8 51.7 531.4 52.3 529.4 52.9 526.4 53.3 521.9 54.4 504.8 55.8 463.2 56.2 455.9 56.7 464.9 57.3 495.7 57.9 507.5 60.0 531.9 60.9 539.9 61.3 541.9 61.9 542.6 62.5 542.8 65.2 542.2 74.2 539.5 75.8 538.7 80.0 535.6 81.5 534.8 82.7 534.6 83.7 534.9 85.4 536.0 86.9 536.6 89.9 537.7 98.2 539.2 107.0 541.6 111.6 542.4 114.2 542.6 116.0 542.3 117.1 541.9 119.6 540.3 120.5 540.0 121.1 540.1 122.5 540.7 123.9 541.1 126.2 541.4 127.5 541.2 128.7 540.3 130.8 536.9 133.2 531.4 134.0 528.5 134.6 524.9 135.9 505.3 137.3 462.8 137.7 455.9 138.2 464.9 138.8 495.7 139.4 507.5 141.5 531.9 142.4 539.9 142.8 541.9 143.4 542.6 144.0 542.8 146.7 542.2 155.7 539.5 157.3 538.7 161.5 535.6 163.0 534.8 164.2 534.6 165.2 534.9 168.1 536.5 171.2 537.6 180.0 539.3 188.3 541.6 191.4 542.2 196.3 542.5 199.7 542.4 201.3 541.8 203.8 540.2 204.8 540.0 208.7 541.1 210.5 541.4 211.7 541.2 212.6 540.5 215.0 536.7 217.1 531.6 218.0 528.8 218.5 525.1 219.9 505.4 221.3 463.4 221.7 456.6 222.2 465.4 222.8 495.6 223.5 507.7 225.5 532.1 226.4 540.2 226.9 542.1 227.4 542.6 228.0 542.8 230.7 542.2 234.7 540.9 239.7 539.4 241.3 538.5 244.2 536.0 245.8 535.0 247.0 534.3 248.2 534.0 249.2 534.3 252.9 536.6 255.2 537.7 264.0 539.3 274.2 542.0 280.6 542.4 285.7 542.1 287.8 541.3 292.1 538.6 292.8 538.9 294.6 540.6 296.1 541.5 297.1 541.7 297.7 541.4 300.6 537.0 301.6 535.2 303.2 530.4 304.1 525.4 305.4 505.8 306.9 466.0 307.3 460.5 307.8 468.3 308.4 496.0 309.1 507.2 311.1 531.0 312.1 540.3 312.5 542.3 313.0 543.0 313.4 543.1 316.3 542.2 320.5 540.6 324.1 539.6 325.6 538.9 327.0 537.7 329.7 534.1 331.6 532.0 332.9 531.0 333.8 530.6 334.6 530.8 335.3 531.4 337.2 533.6 339.6 536.9 340.5 537.7 341.5 538.1 349.1 539.3 358.4 541.6 363.7 542.3 365.6 542.0 368.3 540.9 370.2 539.8 371.7 538.1 372.4 537.8 373.1 538.3 374.7 540.4 375.9 541.4 376.9 541.9 377.4 541.9 377.8 541.7 381.0 536.8 381.6 535.5 383.2 530.5 384.1 525.5 385.5 506.5 387.0 467.1 387.4 462.3 387.7 465.4 388.1 475.4 388.6 497.6 389.2 507.8 391.2 530.9 392.2 540.5 392.6 542.4 393.1 543.1 393.5 543.2 394.2 543.1 400.6 540.5 404.2 539.5 405.7 538.8 407.1 537.3 409.9 533.1 412.0 530.5 413.0 529.5 413.9 529.1 414.7 529.3 415.4 530.0 417.2 532.4 419.9 537.0 420.6 537.7 421.6 538.1 428.4 539.2 435.9 541.1 442.7 542.2 445.1 541.5 448.0 540.1 448.8 539.4 450.0 537.9 450.7 537.5 451.5 538.1 453.0 540.3 454.5 541.6 455.5 542.0 456.2 541.6 457.7 539.0 459.3 536.9 460.1 535.2 461.5 530.5 462.4 525.4 463.8 506.6 465.3 467.8 465.7 463.0 466.0 466.1 466.4 476.0 466.9 497.6 467.5 508.0 469.5 530.9 470.5 540.7 470.9 542.5 471.4 543.2 471.8 543.3 478.9 540.4 482.5 539.5 484.0 538.7 485.5 537.0 488.2 532.6 490.3 529.9 491.3 528.9 492.2 528.5 493.0 528.7 493.9 529.7 495.6 532.1 498.1 536.8 498.9 537.7 499.9 538.2 502.4 538.4 507.2 539.3 515.2 541.3 521.5 542.2 523.6 541.7 526.8 540.3 527.8 539.4 529.0 537.9 529.7 537.5 530.5 538.1 532.0 540.3 533.5 541.6 534.5 542.0 535.2 541.6 536.7 539.0 538.3 536.9 539.1 535.2 540.5 530.5 541.4 525.4 542.8 506.6 544.3 467.8 544.7 463.0 545.0 466.1 545.4 476.0 545.9 497.6 546.5 508.0 548.5 530.9 549.5 540.7 549.9 542.5 550.4 543.2 550.8 543.3 557.9 540.4 561.5 539.5 563.0 538.7 564.5 537.0 567.2 532.6 569.3 529.9 570.3 528.9 571.2 528.5 572.0 528.7 572.9 529.7 574.6 532.1 577.1 536.8 577.9 537.7 578.9 538.2 581.4 538.4 586.2 539.3 594.3 541.3 600.3 542.2 602.6 541.6 605.5 540.3 606.5 539.4 607.7 537.9 608.4 537.5 609.2 538.1 610.7 540.3 612.2 541.6 613.2 542.0 613.9 541.6 615.4 539.0 617.0 536.9 617.8 535.2 619.2 530.5 620.1 525.4 621.5 506.6 623.0 467.8 623.4 463.0 623.9 470.0 624.5 495.7 625.1 506.7 627.8 537.1 628.4 541.9 628.7 542.8 629.3 543.3 630.2 543.1 636.6 540.4 640.2 539.5 641.7 538.7 643.2 537.0 645.9 532.6 648.0 529.9 649.0 528.9 649.9 528.5 650.7 528.7 651.6 529.7 653.3 532.1 655.8 536.8 656.6 537.7 657.6 538.2 660.1 538.4 664.9 539.3 673.5 541.4 679.7 542.2 681.9 541.7 684.8 540.4 686.0 539.4 687.4 537.7 687.9 537.5 688.5 537.9 690.2 540.3 691.4 541.4 692.4 542.0 692.9 542.0 693.3 541.8 694.9 539.0 696.5 536.9 697.1 535.6 698.7 530.8 699.6 525.7 701.0 506.6 702.5 467.8 702.9 463.0 703.2 466.1 703.6 476.0 704.1 497.6 704.7 508.0 706.7 530.9 707.7 540.7 708.1 542.5 708.6 543.2 709.0 543.3 716.1 540.4 719.7 539.5 721.2 538.7 722.7 537.0 725.4 532.6 727.5 529.9 728.5 528.9 729.4 528.5 730.2 528.7 731.1 529.7 732.8 532.1 735.3 536.8 736.1 537.7 737.1 538.2 739.6 538.4 744.4 539.3 753.0 541.4 759.0 542.2 761.3 541.7 764.2 540.4 765.4 539.4 766.8 537.7 767.3 537.5 767.9 537.9 769.6 540.3 770.8 541.4 771.8 542.0 772.3 542.0 772.7 541.8 774.3 539.0 775.9 536.9 776.5 535.6 778.1 530.8 779.0 525.7 780.4 506.6 781.9 467.8 782.3 463.0 782.8 470.0 783.4 495.7 784.0 506.7 786.7 537.1 787.3 541.9 787.6 542.8 788.2 543.3 789.1 543.1 795.5 540.4 799.1 539.5 800.6 538.7 802.1 537.0 804.8 532.6 806.9 529.9 807.9 528.9 808.8 528.5 809.6 528.7 810.5 529.7 812.2 532.1 814.7 536.8 815.5 537.7 816.5 538.2 819.0 538.4 823.8 539.3 829.8 540.9 833.3 541.6 839.5 542.2 842.0 541.8 844.6 540.6 846.0 539.7 847.5 537.9 848.2 537.5 848.8 537.9 850.5 540.3 851.7 541.4 852.7 542.0 853.2 542.0 853.6 541.8 855.2 539.0 856.8 536.9 857.4 535.6 859.0 530.8 859.9 525.7 861.3 506.6 862.8 467.8 863.2 463.0 863.7 470.0 864.3 495.7 864.9 506.7 867.6 537.1 868.2 541.9 868.5 542.8 869.1 543.3 870.0 543.1 876.4 540.4 880.0 539.5 881.5 538.7 883.0 537.0 885.7 532.6 887.8 529.9 888.8 528.9 889.7 528.5 890.5 528.7 891.4 529.7 893.1 532.1 895.6 536.8 896.4 537.7 897.4 538.2 899.9 538.4 904.7 539.3 910.7 540.9 914.8 541.7 918.4 542.1 923.0 542.2 925.9 541.9 928.0 541.3 930.4 539.7 931.9 537.9 932.6 537.5 933.2 537.9 934.9 540.3 936.1 541.4 937.1 542.0 937.6 542.0 938.0 541.8 939.6 539.0 941.2 536.9 941.8 535.6 943.4 530.8 944.3 525.7 945.7 506.6 947.2 467.8 947.6 463.0 948.1 471.0 948.7 495.2 949.2 504.8 951.8 535.1 952.5 541.5 953.1 543.0 953.5 543.3 954.1 543.2 960.6 540.5 964.1 539.6 965.6 538.9 967.2 537.2 970.1 532.6 972.2 529.9 973.2 528.9 974.1 528.5 974.9 528.7 975.8 529.7 977.5 532.1 980.0 536.8 980.8 537.7 981.8 538.2 984.3 538.4 989.1 539.3 995.1 540.9 999.3 541.8 1003.2 542.1 1009.0 542.2 1012.0 542.0 1014.3 541.4 1016.8 539.7 1018.3 537.9 1019.0 537.5 1019.6 537.9 1021.3 540.3 1022.3 541.2 1023.3 541.9 1024.0 542.0 1024.7 541.4 1026.0 539.0 1027.4 537.1 1028.2 535.6 1029.8 530.8 1030.7 525.9 1031.2 519.9 1032.1 506.6 1033.6 467.8 1034.0 463.0 1034.5 471.4 1035.1 495.2 1035.6 504.5 1038.1 534.5 1038.9 541.5 1039.4 542.9 1039.9 543.3 1040.5 543.2 1047.0 540.5 1050.5 539.6 1052.0 538.9 1053.6 537.2 1056.5 532.6 1058.6 529.9 1059.6 528.9 1060.5 528.5 1061.3 528.7 1062.2 529.7 1063.9 532.1 1066.4 536.8 1067.0 537.5 1067.9 538.1 1075.5 539.3 1082.3 541.1 1090.6 541.8 1080.2 542.1 1035.5 542.4"/>
<path d="M16.5 594.6L30.6 594.6 35.9 594.5 38.6 593.9 40.1 592.7 40.6 592.5 41.4 592.7 43.0 593.4 44.3 593.5 45.9 593.0 47.7 591.9 48.7 591.1 50.1 589.6 51.1 587.9 52.3 585.1 53.1 581.1 55.2 548.1 55.8 541.9 56.2 540.3 56.7 542.4 57.8 551.4 59.5 580.4 60.2 589.1 61.0 594.3 61.3 595.6 61.8 596.2 63.2 594.6 67.0 593.2 75.2 588.5 77.5 586.7 81.9 582.4 82.9 582.0 83.5 582.1 84.7 583.3 89.4 590.3 90.4 591.2 91.8 591.7 100.7 592.6 114.3 594.7 119.7 594.0 122.1 592.5 122.9 592.7 124.5 593.4 126.0 593.5 127.9 592.7 129.5 591.7 131.2 590.0 132.4 588.2 133.8 585.1 134.5 582.4 135.0 576.7 136.8 547.5 137.3 541.6 137.7 540.3 138.2 542.4 139.3 551.4 141.0 580.4 141.7 589.1 142.5 594.3 142.8 595.6 143.3 596.2 144.7 594.6 148.5 593.2 156.7 588.5 159.0 586.7 163.4 582.4 164.4 582.0 165.0 582.1 166.2 583.3 170.9 590.3 171.9 591.2 173.3 591.7 181.9 592.6 193.2 594.3 197.0 594.6 200.8 594.3 203.3 593.9 204.4 593.4 205.6 592.4 206.1 592.2 206.9 592.4 208.5 593.2 210.0 593.4 211.4 592.9 213.2 591.8 215.0 590.2 216.3 588.4 217.8 585.2 218.4 582.6 219.0 576.7 220.8 546.8 221.3 541.2 221.7 539.9 222.2 541.9 223.3 551.0 225.7 588.3 226.3 593.3 227.0 596.0 227.3 596.1 227.5 595.9 228.7 594.4 232.5 592.9 240.5 588.3 242.8 586.6 247.4 582.1 248.4 581.7 249.0 581.9 250.2 583.0 254.9 590.2 255.9 591.1 257.1 591.6 266.2 592.5 276.9 594.2 280.7 594.4 285.1 593.8 288.0 593.0 289.7 592.3 291.2 590.8 291.7 590.5 292.5 590.8 294.1 592.1 295.1 592.6 296.2 592.8 297.2 592.4 298.5 591.5 301.3 588.7 302.2 587.2 303.0 585.3 303.8 582.7 304.6 576.0 305.5 558.4 306.4 544.3 306.9 539.2 307.1 538.1 307.3 537.8 307.8 540.0 308.9 548.6 310.6 578.9 311.3 587.8 311.9 592.8 312.6 595.4 312.9 595.4 313.1 595.1 313.9 593.6 314.3 593.2 317.7 591.7 325.1 587.1 327.8 585.2 332.6 580.7 333.3 580.2 334.0 580.0 334.8 580.5 335.7 581.5 340.3 589.5 341.2 590.5 342.2 591.0 364.7 593.9 364.5 593.9 364.6 593.6 369.4 591.9 370.1 591.4 371.3 590.0 371.8 589.8 372.6 590.1 374.2 591.5 375.5 592.4 376.3 592.6 377.3 592.3 378.6 591.3 381.4 588.4 382.6 586.3 383.9 582.4 384.6 575.7 385.6 557.5 386.5 543.3 387.0 538.2 387.2 537.1 387.4 536.9 387.7 537.5 388.0 539.3 389.0 547.7 390.7 578.5 391.4 587.5 392.0 592.7 392.7 595.1 393.0 595.1 393.2 594.8 394.0 593.1 394.4 592.7 398.2 590.8 405.5 586.1 407.9 584.3 412.1 580.3 413.1 579.5 413.8 579.3 414.7 579.5 415.7 580.6 420.2 588.9 421.1 590.1 422.3 590.8 425.1 591.1 440.3 593.3 443.9 593.6 445.2 593.4 446.3 593.0 448.0 591.4 449.6 589.7 450.1 589.5 450.9 589.8 453.8 592.3 454.6 592.5 455.4 592.3 456.7 591.4 459.7 588.3 460.9 586.2 461.7 584.1 462.2 582.3 462.9 575.5 463.9 557.2 464.8 542.9 465.3 537.8 465.5 536.8 465.7 536.5 466.0 537.2 466.3 538.9 467.3 547.4 469.0 578.4 469.7 587.6 470.4 593.0 470.8 594.5 471.2 595.0 472.7 592.5 476.5 590.5 483.5 586.0 486.2 583.9 490.1 580.2 491.2 579.3 492.1 579.0 493.0 579.2 494.0 580.3 498.5 588.8 499.4 590.0 500.6 590.8 503.4 591.0 517.2 593.0 521.8 593.5 523.7 593.3 525.1 592.8 527.1 591.5 528.6 589.7 529.1 589.5 529.9 589.8 531.5 591.3 533.3 592.5 534.4 592.3 535.7 591.4 538.2 589.0 539.3 587.5 540.7 584.3 541.3 581.4 542.0 574.8 542.8 557.4 543.8 543.5 544.3 537.8 544.5 536.8 544.7 536.5 545.0 537.2 545.3 538.9 546.3 547.4 548.0 578.4 548.7 587.6 549.4 593.0 549.8 594.5 550.2 595.0 551.7 592.5 555.5 590.5 562.5 586.0 565.2 583.9 569.1 580.2 570.2 579.3 571.1 579.0 572.0 579.2 573.0 580.3 577.5 588.8 578.4 590.0 579.6 590.8 582.4 591.0 596.2 593.0 600.8 593.5 602.5 593.4 603.7 593.0 605.7 591.5 607.1 589.9 607.8 589.5 608.6 589.8 610.2 591.3 612.0 592.5 613.1 592.3 614.4 591.4 616.9 589.0 618.0 587.5 619.4 584.3 620.0 581.4 620.7 574.8 621.5 557.4 622.5 543.5 623.0 537.8 623.2 536.8 623.4 536.5 623.7 537.2 624.0 538.9 625.0 547.4 626.7 578.4 627.4 587.6 628.1 593.0 628.5 594.5 628.9 595.0 630.4 592.5 634.2 590.5 641.2 586.0 643.9 583.9 647.8 580.2 648.9 579.3 649.8 579.0 650.7 579.2 651.7 580.3 656.2 588.8 657.1 590.0 658.3 590.8 661.1 591.0 667.9 592.0 679.9 593.5 680.5 593.7 680.1 593.5 684.9 591.7 685.6 591.2 686.8 589.7 687.3 589.5 688.1 589.8 689.7 591.3 691.5 592.5 692.6 592.3 693.9 591.4 696.4 589.0 697.5 587.5 698.9 584.3 699.5 581.4 700.2 574.8 701.0 557.4 702.0 543.5 702.5 537.8 702.7 536.8 702.9 536.5 703.2 537.2 703.5 538.9 704.5 547.4 706.2 578.4 706.9 587.6 707.6 593.0 708.0 594.5 708.4 595.0 709.9 592.5 713.7 590.5 720.7 586.0 723.4 583.9 727.3 580.2 728.4 579.3 729.3 579.0 730.2 579.2 731.2 580.3 735.7 588.8 736.6 590.0 737.8 590.8 740.6 591.0 747.4 592.0 759.4 593.5 759.9 593.7 759.5 593.5 764.3 591.7 765.0 591.2 766.2 589.7 766.7 589.5 767.5 589.8 769.1 591.3 770.9 592.5 772.0 592.3 773.3 591.4 775.8 589.0 776.9 587.5 778.3 584.3 778.9 581.4 779.6 574.8 780.4 557.4 781.4 543.5 781.9 537.8 782.1 536.8 782.3 536.5 782.6 537.2 782.9 538.9 783.9 547.4 785.6 578.4 786.3 587.6 787.0 593.0 787.4 594.5 787.8 595.0 789.3 592.5 793.1 590.5 800.1 586.0 802.8 583.9 806.7 580.2 807.8 579.3 808.7 579.0 809.6 579.2 810.6 580.3 815.1 588.8 816.0 590.0 817.2 590.8 820.0 591.0 840.0 593.7 845.2 591.7 845.9 591.2 847.1 589.7 847.6 589.5 848.4 589.8 850.0 591.3 851.8 592.5 852.6 592.4 853.9 591.7 856.5 589.2 857.8 587.5 859.2 584.3 859.8 581.7 860.5 575.1 861.3 557.4 862.3 543.3 862.8 537.8 863.0 536.8 863.2 536.5 863.5 537.2 863.8 538.9 864.8 547.4 866.5 578.4 867.2 587.2 867.8 592.5 868.5 594.9 868.7 595.0 868.9 594.8 869.6 593.3 870.2 592.5 874.0 590.5 881.0 586.0 883.7 583.9 887.6 580.2 888.7 579.3 889.6 579.0 890.5 579.2 891.5 580.3 896.0 588.8 897.1 590.2 898.3 590.8 900.9 591.0 914.6 592.9 922.5 593.7 925.3 593.4 928.3 592.4 930.0 591.5 931.5 589.7 932.0 589.5 932.8 589.8 934.4 591.3 935.9 592.4 936.8 592.5 938.0 591.9 940.7 589.4 942.2 587.5 943.6 584.3 944.2 581.7 944.9 575.1 945.7 557.4 946.7 543.3 947.2 537.8 947.4 536.8 947.6 536.5 947.9 537.2 948.2 538.9 949.2 547.4 950.9 578.4 951.6 587.2 952.2 592.5 952.9 594.9 953.1 595.0 953.3 594.8 954.0 593.3 954.6 592.5 958.4 590.5 965.4 586.0 968.1 583.9 972.0 580.2 973.1 579.3 974.0 579.0 974.9 579.2 975.9 580.3 980.4 588.8 981.3 590.0 982.5 590.8 985.3 591.0 1002.1 593.3 1009.0 593.7 1011.8 593.4 1014.3 592.6 1016.4 591.5 1017.9 589.7 1018.4 589.5 1019.2 589.8 1022.1 592.3 1022.9 592.5 1023.7 592.3 1025.0 591.4 1028.0 588.3 1029.2 586.2 1030.0 584.1 1030.5 582.3 1031.2 575.5 1032.2 557.2 1033.1 542.9 1033.6 537.8 1033.8 536.8 1034.0 536.5 1034.3 537.2 1034.6 538.9 1035.6 547.4 1037.3 578.4 1038.0 587.2 1038.6 592.5 1039.3 594.9 1039.5 595.0 1039.7 594.8 1040.4 593.3 1041.0 592.5 1044.8 590.5 1051.8 586.0 1054.5 583.9 1058.4 580.2 1059.5 579.3 1060.4 579.0 1061.3 579.2 1062.3 580.3 1066.7 588.6 1067.7 590.0 1068.7 590.7 1069.6 590.9 1071.7 591.0 1079.0 592.1 1090.0 592.9 1092.3 593.2 1090.1 593.5 1081.4 593.8 1035.5 594.6"/>
<path d="M16.5 646.7L31.1 646.8 36.0 646.6 36.6 646.4 37.0 646.0 39.2 644.7 40.0 644.4 40.8 644.5 43.2 645.3 44.5 645.4 45.6 645.3 47.4 644.5 51.4 642.3 52.1 641.5 52.5 640.6 53.5 637.1 54.3 632.5 55.4 622.7 55.8 620.8 56.2 620.3 56.5 620.5 56.8 621.7 57.8 627.6 59.7 646.6 60.0 648.8 60.4 649.6 61.7 647.7 63.7 645.8 65.4 644.8 71.9 641.6 74.4 640.2 76.0 638.9 80.1 634.9 81.3 634.2 82.2 634.4 83.9 635.4 85.0 637.0 88.6 643.4 89.7 644.6 90.7 645.0 98.2 645.6 108.2 646.8 111.7 647.1 113.8 647.0 117.1 646.4 119.0 645.8 120.7 644.7 121.5 644.4 125.3 645.4 126.5 645.4 127.6 645.1 132.9 642.3 133.6 641.5 134.0 640.6 134.8 638.2 135.4 635.1 136.9 622.7 137.3 620.8 137.7 620.3 138.0 620.5 138.3 621.7 139.3 627.6 141.2 646.6 141.5 648.8 141.9 649.6 143.2 647.7 145.2 645.8 146.9 644.8 153.4 641.6 155.9 640.2 157.5 638.9 161.6 634.9 162.8 634.2 163.7 634.4 165.4 635.4 166.5 637.0 170.1 643.4 171.2 644.6 172.2 645.0 179.7 645.6 189.3 646.8 193.2 647.0 197.0 646.9 201.1 646.3 203.0 645.6 204.7 644.4 205.5 644.2 206.3 644.3 208.4 645.1 210.5 645.3 212.4 644.7 216.6 642.4 217.4 641.8 217.9 640.9 218.6 638.7 219.3 635.4 219.9 631.7 220.9 622.1 221.3 620.1 221.7 619.7 222.0 619.9 222.3 621.1 223.2 626.8 225.2 646.4 225.5 648.7 225.9 649.5 227.2 647.6 229.2 645.7 230.9 644.7 237.4 641.5 239.9 640.1 241.5 638.8 245.6 634.9 246.8 634.2 247.4 634.3 248.9 635.0 249.7 635.8 253.9 643.1 255.0 644.3 255.9 644.9 264.1 645.5 274.2 646.8 277.1 646.9 280.2 646.7 284.6 646.0 286.8 645.5 290.8 642.9 291.9 643.0 294.3 644.3 296.4 644.5 298.2 644.0 301.1 642.6 302.5 642.2 303.0 641.8 303.8 639.8 304.7 635.8 305.4 630.5 306.5 619.0 306.9 616.9 307.1 616.4 307.3 616.3 307.6 616.7 307.8 617.5 308.6 622.4 309.4 629.3 310.8 645.5 311.1 648.0 311.5 648.8 312.8 646.9 314.8 645.0 316.9 643.7 325.1 639.5 331.0 635.0 331.9 634.5 332.7 634.3 334.5 634.9 335.3 635.6 339.6 643.1 340.3 644.0 341.3 644.7 348.9 644.9 359.7 646.2 362.9 646.3 364.1 646.1 367.0 645.0 368.7 644.0 370.2 642.7 370.9 642.3 372.0 642.4 374.4 643.9 376.2 644.2 378.1 643.8 381.2 642.4 382.6 642.2 383.1 641.8 383.9 639.8 384.7 635.7 385.5 629.9 386.6 617.6 387.0 615.2 387.4 614.8 387.7 615.1 387.9 615.8 388.6 620.3 389.4 628.3 390.9 645.1 391.2 647.5 391.6 648.5 391.8 648.4 392.9 646.6 394.2 645.2 395.3 644.4 405.0 639.3 410.6 635.3 411.8 634.6 412.8 634.4 414.8 634.9 415.4 635.5 416.3 636.8 419.7 643.1 420.4 644.0 421.4 644.7 422.1 644.8 424.1 644.6 428.7 644.7 439.9 646.0 442.5 646.1 443.0 646.0 443.5 645.6 446.7 644.0 448.5 642.5 449.2 642.0 450.3 642.2 452.7 643.7 454.5 644.1 456.1 643.8 459.5 642.4 460.9 642.2 461.4 641.8 462.2 639.8 463.0 635.7 463.8 629.7 464.9 617.0 465.3 614.6 465.7 614.2 466.0 614.5 466.2 615.2 466.8 619.6 467.7 628.0 469.2 644.9 469.5 647.4 469.9 648.4 470.1 648.3 471.2 646.5 472.5 645.1 473.6 644.3 483.3 639.1 488.3 635.6 489.9 634.7 490.8 634.4 492.9 634.8 493.7 635.5 494.5 636.7 498.0 643.1 499.0 644.2 499.9 644.7 502.4 644.5 507.0 644.6 518.1 645.9 521.1 646.0 521.9 645.9 524.7 644.6 528.2 642.0 529.3 642.2 531.7 643.7 533.5 644.1 534.9 643.9 538.5 642.4 539.9 642.2 540.4 641.8 540.9 640.7 541.8 636.8 542.8 629.9 543.9 617.0 544.3 614.6 544.7 614.2 545.0 614.5 545.2 615.2 545.8 619.6 546.7 628.0 548.2 644.9 548.5 647.4 548.9 648.4 549.1 648.3 550.2 646.5 551.5 645.1 552.6 644.3 562.3 639.1 567.3 635.6 568.9 634.7 569.8 634.4 571.9 634.8 572.7 635.5 573.5 636.7 577.0 643.1 578.0 644.2 578.9 644.7 581.4 644.5 586.0 644.6 597.4 645.9 600.2 646.0 604.2 644.1 606.2 642.5 606.9 642.0 608.0 642.2 610.4 643.7 612.2 644.1 613.6 643.9 617.2 642.4 618.6 642.2 619.1 641.8 619.6 640.7 620.6 636.5 621.5 629.9 622.6 617.0 622.9 614.9 623.3 614.2 623.6 614.4 623.9 615.2 624.5 619.2 625.4 628.0 626.9 644.9 627.2 647.4 627.6 648.4 627.8 648.3 628.9 646.5 630.2 645.1 631.3 644.3 641.0 639.1 646.0 635.6 647.6 634.7 648.5 634.4 650.6 634.8 651.4 635.5 652.2 636.7 655.7 643.1 656.7 644.2 657.6 644.7 660.1 644.5 664.7 644.6 676.0 645.9 679.0 646.0 680.0 645.8 682.4 644.8 684.2 643.8 685.7 642.5 686.4 642.0 687.5 642.2 689.9 643.7 691.7 644.1 693.1 643.9 696.7 642.4 698.1 642.2 698.6 641.8 699.1 640.7 700.1 636.5 701.0 629.9 702.1 617.0 702.4 614.9 702.8 614.2 703.1 614.4 703.4 615.2 704.0 619.2 704.9 628.0 706.4 644.9 706.7 647.4 707.1 648.4 707.3 648.3 708.4 646.5 709.7 645.1 710.8 644.3 720.5 639.1 725.5 635.6 727.1 634.7 728.0 634.4 730.1 634.8 730.9 635.5 731.7 636.7 735.2 643.1 736.2 644.2 737.1 644.7 739.6 644.5 744.2 644.6 755.5 645.9 758.6 646.0 759.4 645.8 762.1 644.7 763.6 643.8 765.1 642.5 765.8 642.0 766.9 642.2 769.3 643.7 771.1 644.1 772.5 643.9 776.1 642.4 777.5 642.2 778.0 641.8 778.5 640.7 779.5 636.5 780.4 629.9 781.5 617.0 781.8 614.9 782.2 614.2 782.5 614.4 782.8 615.2 783.4 619.2 784.3 628.0 785.8 644.9 786.1 647.4 786.5 648.4 786.7 648.3 787.8 646.5 789.1 645.1 790.2 644.3 799.9 639.1 804.9 635.6 806.5 634.7 807.4 634.4 809.5 634.8 810.3 635.5 811.1 636.7 814.6 643.1 815.6 644.2 816.5 644.7 819.0 644.5 823.6 644.6 834.8 645.9 838.4 646.0 840.2 645.7 842.3 645.1 844.5 643.8 846.0 642.5 846.7 642.0 847.8 642.2 850.2 643.7 852.0 644.1 853.4 643.9 857.0 642.4 858.4 642.2 858.9 641.8 859.4 640.7 860.4 636.5 861.3 629.9 862.4 617.0 862.7 614.9 863.1 614.2 863.4 614.4 863.7 615.2 864.3 619.2 865.2 628.0 866.7 644.9 867.0 647.4 867.4 648.4 867.6 648.3 868.7 646.5 870.0 645.1 871.1 644.3 880.8 639.1 885.8 635.6 887.4 634.7 888.3 634.4 890.4 634.8 891.2 635.5 892.0 636.7 895.5 643.1 896.5 644.2 897.4 644.7 899.9 644.5 904.2 644.6 915.8 645.9 921.3 646.0 924.7 645.6 926.7 645.2 927.6 644.7 930.4 642.5 931.1 642.0 932.2 642.2 934.6 643.7 936.4 644.1 937.8 643.9 941.4 642.4 942.8 642.2 943.3 641.8 943.8 640.7 944.8 636.5 945.7 629.9 946.8 617.0 947.1 614.9 947.5 614.2 947.8 614.4 948.1 615.2 948.7 619.2 949.6 628.0 951.1 644.9 951.4 647.4 951.8 648.4 952.0 648.3 953.1 646.5 954.4 645.1 955.5 644.3 965.2 639.1 970.2 635.6 971.8 634.7 972.7 634.4 974.8 634.8 975.6 635.5 976.4 636.7 979.9 643.1 980.9 644.2 981.8 644.7 984.3 644.5 988.3 644.6 1000.6 645.9 1007.5 645.9 1011.3 645.6 1013.3 645.2 1014.0 644.8 1016.8 642.5 1017.5 642.0 1018.6 642.2 1021.0 643.7 1022.8 644.1 1024.2 643.9 1027.8 642.4 1029.2 642.2 1029.7 641.8 1030.2 640.7 1031.2 636.5 1032.1 629.9 1033.2 617.0 1033.5 614.9 1033.9 614.2 1034.2 614.4 1034.5 615.2 1035.1 619.2 1036.0 628.0 1037.5 644.9 1037.8 647.4 1038.2 648.4 1038.4 648.3 1039.5 646.5 1040.8 645.1 1041.9 644.3 1051.8 639.0 1057.4 635.1 1058.6 634.6 1059.4 634.4 1061.4 634.9 1062.0 635.5 1062.8 636.7 1066.1 642.9 1067.0 644.0 1068.0 644.7 1068.7 644.8 1070.7 644.5 1075.0 644.6 1086.7 645.4 1089.7 645.8 1087.5 646.0 1079.3 646.2 1035.5 646.7"/>
</g>
<g font-family="'Liberation Sans', Arial, sans-serif" font-size="12" fill="#3a3a3a" stroke="#3a3a3a" stroke-width="0.3" text-anchor="end">
<text x="25" y="44.4">I</text>
<text x="25" y="99.9">II</text>
<text x="25" y="153.8">III</text>
<text x="25" y="209.0">aVR</text>
<text x="25" y="264.0">aVL</text>
<text x="25" y="304.7">aVF</text>
<text x="25" y="357.6">V1</text>
<text x="25" y="428.1">V2</text>
<text x="25" y="487.9">V3</text>
<text x="25" y="543.7">V4</text>
<text x="25" y="593.7">V5</text>
<text x="25" y="647.9">V6</text>
</g>
</svg>
<div id="small"></div>
<div id="shadow"></div>
<div id="box"></div>
<svg id="inset" width="1024" height="666" viewBox="0 0 1024 666">
<g font-family="'Liberation Sans', Arial, sans-serif" font-size="24.2" fill="#29438F" stroke="#29438F" stroke-width="1.0">
<text transform="scale(0.860 1)" x="99.77" y="245.3" textLength="359.89" lengthAdjust="spacing">l’onde delta est positive et le</text>
<text transform="scale(0.860 1)" x="110.00" y="275.0" textLength="339.54" lengthAdjust="spacing">QRS est positif puis négatif</text>
<text transform="scale(0.860 1)" x="520.47" y="315.4" textLength="175.58" lengthAdjust="spacing">pré-excitation</text>
<text transform="scale(0.860 1)" x="547.21" y="344.4" textLength="123.27" lengthAdjust="spacing">maximale</text>
<text transform="scale(0.860 1)" x="796.74" y="245.1" textLength="218.03" lengthAdjust="spacing">le QRS va devenir</text>
<text transform="scale(0.860 1)" x="823.49" y="275.1" textLength="165.14" lengthAdjust="spacing">isoélectrique</text>
</g>
<rect x="71.7" y="356.9" width="2.6" height="15.6" fill="#1a1a1a"/>
<path d="M62.9 385.6L70.4 384.9 75.1 384.3 81.5 383.0 86.6 381.6 92.2 379.4 103.5 373.6 111.0 370.1 116.1 368.1 119.4 367.3 121.2 367.3 122.5 367.8 125.4 369.6 129.3 373.1 131.4 374.4 133.4 375.3 139.3 377.4 144.9 379.2 149.6 380.3 153.1 380.8 156.5 381.0 159.5 380.3 165.6 377.3 172.9 373.1 179.4 368.5 182.0 366.3 184.2 364.0 186.0 361.8 187.8 359.1 190.9 353.0 193.9 345.5 198.2 332.9 199.9 326.6 203.0 312.5 205.6 299.1 206.5 296.3 206.9 295.7 207.5 295.4 208.1 295.5 209.1 296.5 210.8 299.9 212.5 305.2 213.8 311.9 216.6 333.0 218.4 354.1 220.1 370.0 221.9 384.2 223.1 391.0 224.8 396.7 227.0 401.0 228.5 403.2 230.0 404.7 231.5 406.0 233.1 406.9 234.7 407.3 235.7 407.2 236.7 406.9 238.2 406.1 242.1 402.7 246.8 397.0 249.7 394.3 253.1 391.8 256.3 389.8 259.5 388.1 262.6 386.9 286.0 381.6 300.1 378.7 319.3 375.5 336.8 373.1 371.0 369.6 381.8 369.2 387.1 369.4 389.9 369.8 392.5 370.5 401.5 375.0 409.9 378.0 416.7 380.2 420.2 381.1 423.7 381.7 435.3 383.0" fill="none" stroke="#1a1a1a" stroke-width="3.4" stroke-linejoin="round" stroke-linecap="butt"/>
<path d="M593.8 386.1L599.6 385.7 603.9 385.2 611.8 383.6 618.1 381.9 623.3 379.9 634.4 374.1 642.5 370.4 647.5 368.4 651.0 367.7 652.1 367.8 653.0 368.1 655.7 369.8 659.6 373.2 662.2 374.9 666.5 376.7 672.4 378.7 678.5 380.4 682.7 381.2 686.9 381.3 688.5 381.0 690.2 380.3 700.1 375.1 708.7 369.9 714.5 365.6 716.7 363.7 718.6 361.7 720.2 359.3 721.6 356.5 724.9 345.8 732.7 327.2 735.4 321.9 736.5 320.6 737.6 320.0 738.0 320.1 738.4 320.4 739.2 321.8 743.4 331.4 746.5 339.8 748.6 347.5 749.6 352.6 750.3 358.4 752.5 384.6 754.6 404.9 755.9 414.3 757.1 419.8 758.5 423.5 759.4 425.1 760.4 426.3 761.4 427.2 762.5 427.7 763.5 427.8 764.4 427.7 765.8 426.9 767.4 425.3 769.2 422.6 771.8 417.7 775.2 410.5 780.4 397.1 781.5 395.1 782.9 393.1 785.1 391.0 788.2 388.9 792.1 387.6 797.1 386.4 832.1 379.3 847.7 376.5 861.4 374.4 876.6 372.5 893.4 370.8 904.9 370.0 916.3 369.6 919.4 369.8 922.8 370.7 934.7 375.9 943.1 379.0 948.8 380.9 955.2 382.3 966.4 383.9" fill="none" stroke="#1a1a1a" stroke-width="3.4" stroke-dasharray="9.6 4" stroke-linejoin="round"/>
<polygon points="455.2,370.8 545.5,370.8 545.5,350.9 585,390.5 545.5,430.3 545.5,410.3 455.2,410.3" fill="#E17728"/>
</svg>
</body></html>
